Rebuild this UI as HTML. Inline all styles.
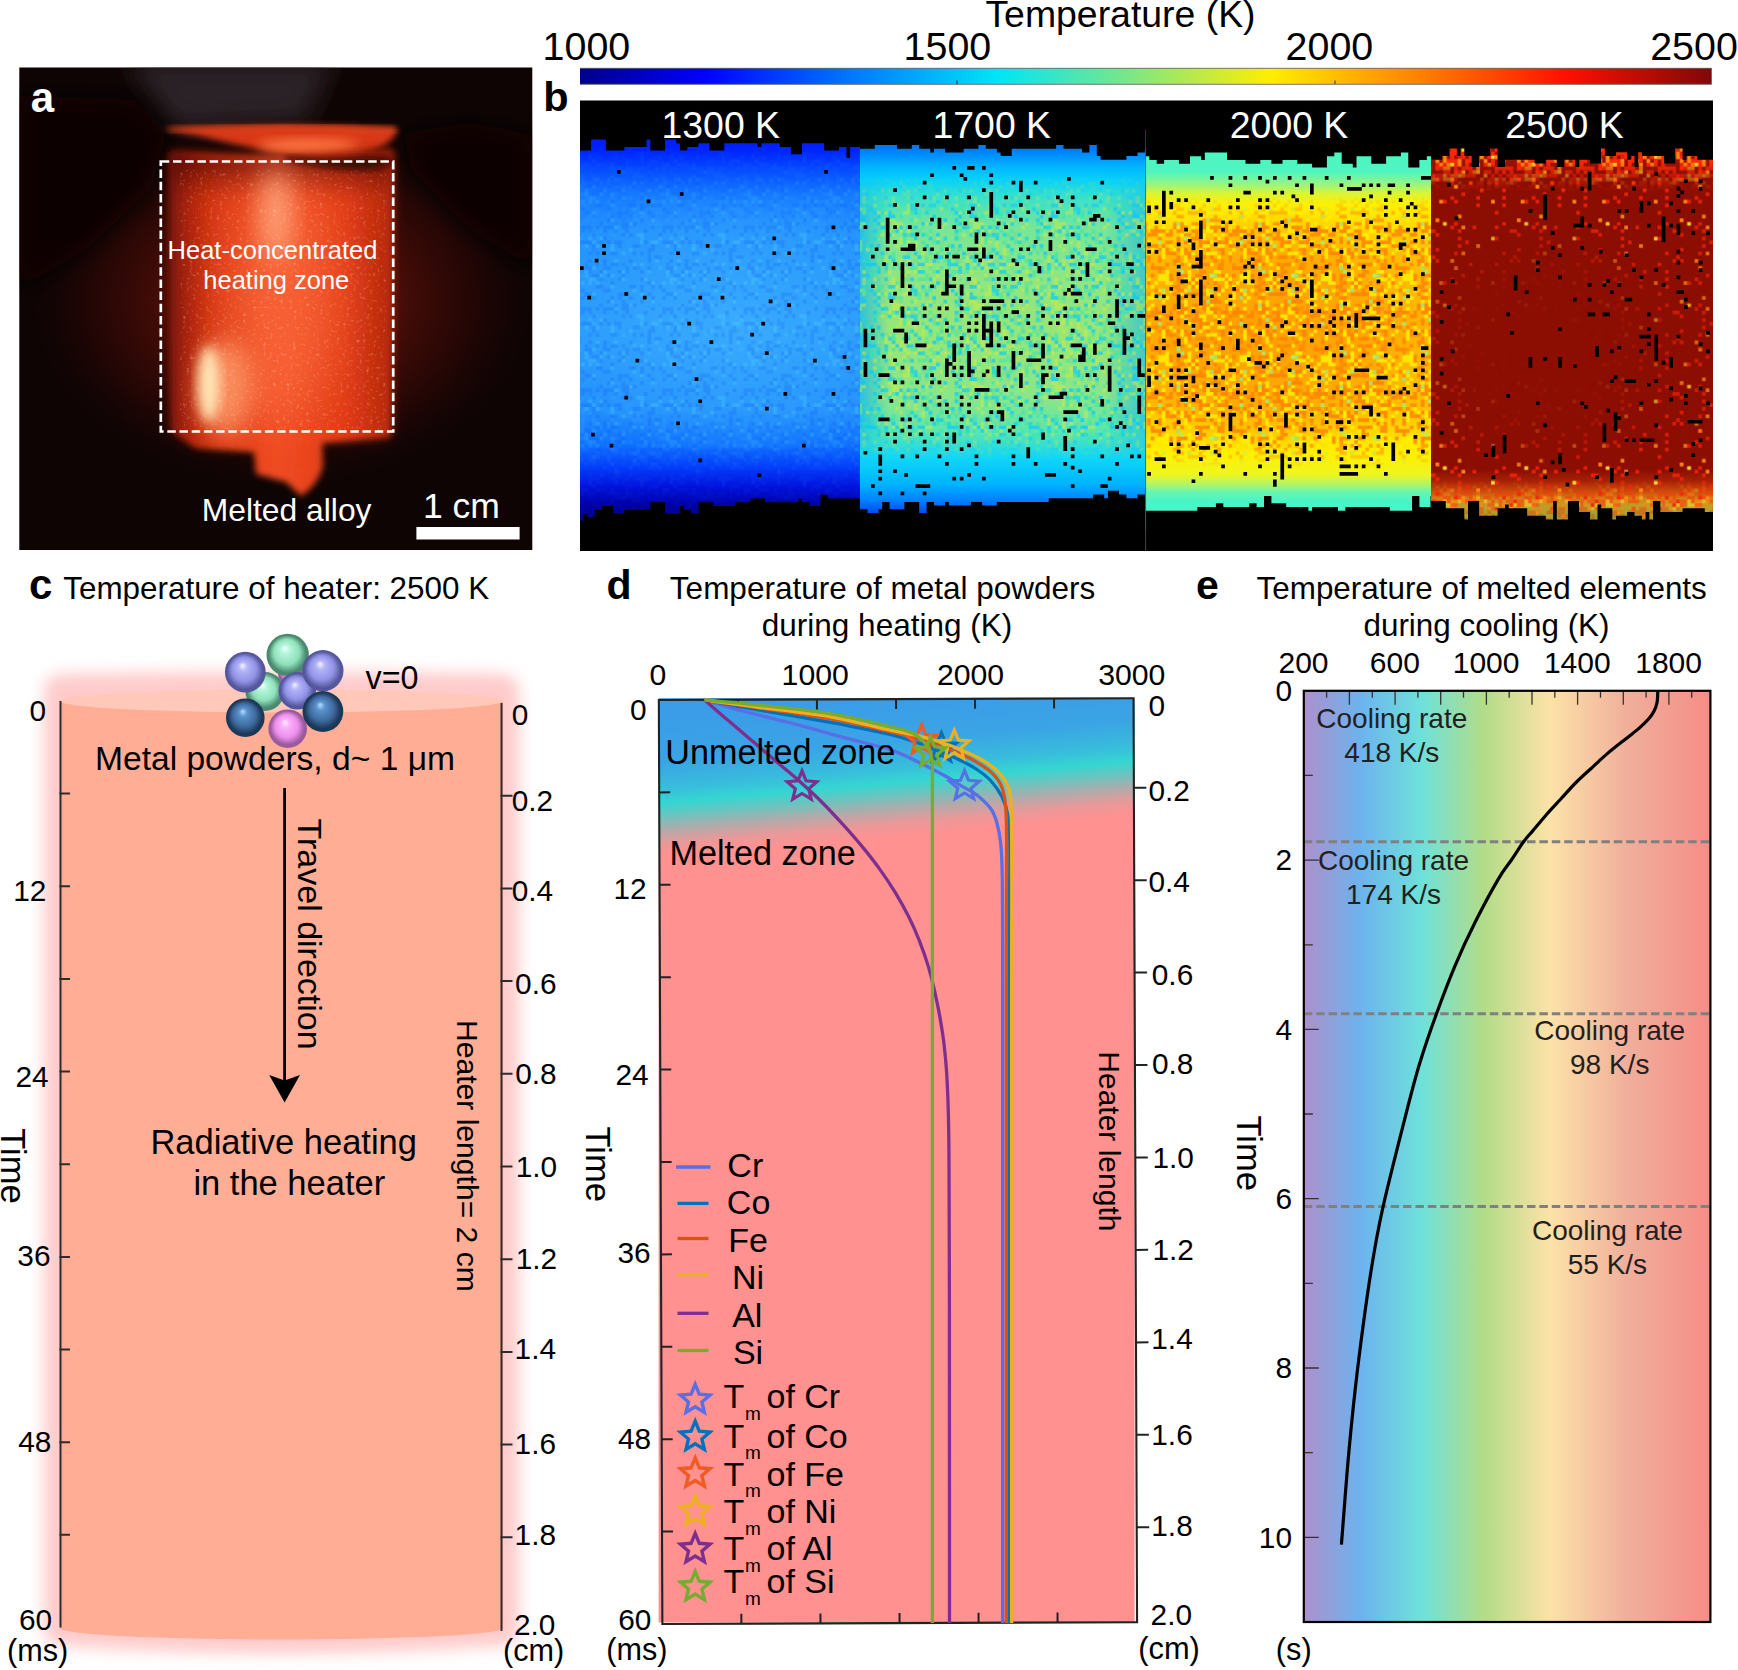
<!DOCTYPE html>
<html lang="en"><head><meta charset="utf-8"><title>Figure</title>
<style>html,body{margin:0;padding:0;background:#fff}svg{display:block}text{font-family:"Liberation Sans",sans-serif}</style></head>
<body>
<svg width="1738" height="1670" viewBox="0 0 1738 1670">
<defs>
<clipPath id="ca"><rect x="19.3" y="67.4" width="513" height="482.6"/></clipPath>
<filter id="bl3" x="-20%" y="-20%" width="140%" height="140%"><feGaussianBlur stdDeviation="3"/></filter>
<filter id="bl6" x="-30%" y="-30%" width="160%" height="160%"><feGaussianBlur stdDeviation="6"/></filter>
<filter id="bl12" x="-50%" y="-50%" width="200%" height="200%"><feGaussianBlur stdDeviation="12"/></filter>
<filter id="bl25" x="-60%" y="-60%" width="220%" height="220%"><feGaussianBlur stdDeviation="22"/></filter>
<linearGradient id="abody" x1="0" x2="1" y1="0" y2="0"><stop offset="0" stop-color="#6e160a"/><stop offset="0.07" stop-color="#a8220c"/><stop offset="0.2" stop-color="#d83612"/><stop offset="0.48" stop-color="#f04c24"/><stop offset="0.8" stop-color="#e03a14"/><stop offset="1" stop-color="#b4280e"/></linearGradient>
<radialGradient id="aglow" cx="0.5" cy="0.5" r="0.5"><stop offset="0" stop-color="#6a1409"/><stop offset="0.45" stop-color="#4a0d07"/><stop offset="0.75" stop-color="#2a0705" stop-opacity="0.8"/><stop offset="1" stop-color="#1a0504" stop-opacity="0"/></radialGradient>
<linearGradient id="atop" gradientUnits="userSpaceOnUse" x1="0" x2="0" y1="150" y2="200"><stop offset="0" stop-color="#3a0a04" stop-opacity="0.7"/><stop offset="1" stop-color="#3a0a04" stop-opacity="0"/></linearGradient>
<filter id="spk" x="0" y="0" width="100%" height="100%"><feTurbulence type="fractalNoise" baseFrequency="0.3" numOctaves="2" seed="4" result="n"/><feColorMatrix in="n" type="matrix" values="0 0 0 0 1  0 0 0 0 0.82  0 0 0 0 0.66  0 0 0 3 -1.75"/><feComposite operator="in" in2="SourceGraphic"/></filter>
<linearGradient id="jet" x1="0" x2="1" y1="0" y2="0"><stop offset="0" stop-color="#00008c"/><stop offset="0.11" stop-color="#0000ff"/><stop offset="0.24" stop-color="#0078ff"/><stop offset="0.37" stop-color="#00e6f5"/><stop offset="0.49" stop-color="#82e682"/><stop offset="0.61" stop-color="#ffee00"/><stop offset="0.74" stop-color="#ff8200"/><stop offset="0.87" stop-color="#ff1000"/><stop offset="1" stop-color="#800808"/></linearGradient>
<linearGradient id="s1" x1="0" x2="0" y1="0" y2="1"><stop offset="0.000" stop-color="#0014fa"/><stop offset="0.055" stop-color="#0026ff"/><stop offset="0.105" stop-color="#0650ff"/><stop offset="0.163" stop-color="#167aff"/><stop offset="0.250" stop-color="#2492fd"/><stop offset="0.500" stop-color="#2c9cfc"/><stop offset="0.700" stop-color="#2490fd"/><stop offset="0.787" stop-color="#1070ff"/><stop offset="0.845" stop-color="#043cfa"/><stop offset="0.892" stop-color="#0012dc"/><stop offset="0.938" stop-color="#0000a5"/><stop offset="1.000" stop-color="#000078"/></linearGradient>
<radialGradient id="s1r" cx="0.55" cy="0.5" r="0.6"><stop offset="0" stop-color="#4cc0ff" stop-opacity="0.45"/><stop offset="1" stop-color="#4cc0ff" stop-opacity="0"/></radialGradient>
<pattern id="n1" width="81.4" height="81.4" patternUnits="userSpaceOnUse"><path d="M0.0 37.0h3.7v3.7h-3.7zM0.0 44.4h3.7v3.7h-3.7zM0.0 55.5h3.7v3.7h-3.7zM0.0 77.7h3.7v3.7h-3.7zM3.7 3.7h3.7v3.7h-3.7zM3.7 14.8h3.7v3.7h-3.7zM3.7 77.7h3.7v3.7h-3.7zM7.4 22.2h3.7v3.7h-3.7zM7.4 44.4h3.7v3.7h-3.7zM7.4 59.2h3.7v3.7h-3.7zM7.4 74.0h3.7v3.7h-3.7zM11.1 0.0h3.7v3.7h-3.7zM11.1 3.7h3.7v3.7h-3.7zM11.1 29.6h3.7v3.7h-3.7zM11.1 37.0h3.7v3.7h-3.7zM14.8 0.0h3.7v3.7h-3.7zM14.8 25.9h3.7v3.7h-3.7zM14.8 29.6h3.7v3.7h-3.7zM18.5 33.3h3.7v3.7h-3.7zM18.5 37.0h3.7v3.7h-3.7zM18.5 74.0h3.7v3.7h-3.7zM22.2 22.2h3.7v3.7h-3.7zM22.2 33.3h3.7v3.7h-3.7zM22.2 48.1h3.7v3.7h-3.7zM22.2 77.7h3.7v3.7h-3.7zM25.9 0.0h3.7v3.7h-3.7zM25.9 14.8h3.7v3.7h-3.7zM25.9 37.0h3.7v3.7h-3.7zM29.6 29.6h3.7v3.7h-3.7zM29.6 66.6h3.7v3.7h-3.7zM29.6 74.0h3.7v3.7h-3.7zM33.3 25.9h3.7v3.7h-3.7zM37.0 14.8h3.7v3.7h-3.7zM40.7 0.0h3.7v3.7h-3.7zM40.7 3.7h3.7v3.7h-3.7zM40.7 11.1h3.7v3.7h-3.7zM40.7 29.6h3.7v3.7h-3.7zM40.7 33.3h3.7v3.7h-3.7zM40.7 40.7h3.7v3.7h-3.7zM40.7 55.5h3.7v3.7h-3.7zM44.4 14.8h3.7v3.7h-3.7zM44.4 62.9h3.7v3.7h-3.7zM44.4 74.0h3.7v3.7h-3.7zM51.8 7.4h3.7v3.7h-3.7zM51.8 25.9h3.7v3.7h-3.7zM51.8 33.3h3.7v3.7h-3.7zM55.5 3.7h3.7v3.7h-3.7zM59.2 3.7h3.7v3.7h-3.7zM59.2 33.3h3.7v3.7h-3.7zM59.2 59.2h3.7v3.7h-3.7zM62.9 11.1h3.7v3.7h-3.7zM62.9 18.5h3.7v3.7h-3.7zM62.9 44.4h3.7v3.7h-3.7zM62.9 51.8h3.7v3.7h-3.7zM66.6 70.3h3.7v3.7h-3.7zM70.3 3.7h3.7v3.7h-3.7zM70.3 18.5h3.7v3.7h-3.7zM70.3 29.6h3.7v3.7h-3.7zM70.3 48.1h3.7v3.7h-3.7zM70.3 70.3h3.7v3.7h-3.7zM70.3 74.0h3.7v3.7h-3.7zM70.3 77.7h3.7v3.7h-3.7zM74.0 33.3h3.7v3.7h-3.7zM74.0 37.0h3.7v3.7h-3.7zM74.0 70.3h3.7v3.7h-3.7zM77.7 25.9h3.7v3.7h-3.7z" fill="#4cd2ff" fill-opacity="0.32"/><path d="M0.0 33.3h3.7v3.7h-3.7zM0.0 44.4h3.7v3.7h-3.7zM0.0 59.2h3.7v3.7h-3.7zM3.7 25.9h3.7v3.7h-3.7zM3.7 37.0h3.7v3.7h-3.7zM3.7 44.4h3.7v3.7h-3.7zM3.7 48.1h3.7v3.7h-3.7zM3.7 55.5h3.7v3.7h-3.7zM3.7 59.2h3.7v3.7h-3.7zM7.4 11.1h3.7v3.7h-3.7zM7.4 22.2h3.7v3.7h-3.7zM7.4 29.6h3.7v3.7h-3.7zM7.4 37.0h3.7v3.7h-3.7zM7.4 48.1h3.7v3.7h-3.7zM11.1 11.1h3.7v3.7h-3.7zM11.1 14.8h3.7v3.7h-3.7zM11.1 18.5h3.7v3.7h-3.7zM11.1 22.2h3.7v3.7h-3.7zM11.1 40.7h3.7v3.7h-3.7zM11.1 51.8h3.7v3.7h-3.7zM11.1 70.3h3.7v3.7h-3.7zM14.8 18.5h3.7v3.7h-3.7zM14.8 29.6h3.7v3.7h-3.7zM14.8 33.3h3.7v3.7h-3.7zM14.8 40.7h3.7v3.7h-3.7zM14.8 55.5h3.7v3.7h-3.7zM18.5 3.7h3.7v3.7h-3.7zM18.5 7.4h3.7v3.7h-3.7zM18.5 25.9h3.7v3.7h-3.7zM18.5 48.1h3.7v3.7h-3.7zM18.5 51.8h3.7v3.7h-3.7zM18.5 66.6h3.7v3.7h-3.7zM18.5 70.3h3.7v3.7h-3.7zM18.5 74.0h3.7v3.7h-3.7zM22.2 3.7h3.7v3.7h-3.7zM22.2 11.1h3.7v3.7h-3.7zM22.2 14.8h3.7v3.7h-3.7zM22.2 37.0h3.7v3.7h-3.7zM22.2 51.8h3.7v3.7h-3.7zM22.2 55.5h3.7v3.7h-3.7zM22.2 70.3h3.7v3.7h-3.7zM22.2 77.7h3.7v3.7h-3.7zM25.9 37.0h3.7v3.7h-3.7zM25.9 44.4h3.7v3.7h-3.7zM25.9 48.1h3.7v3.7h-3.7zM25.9 70.3h3.7v3.7h-3.7zM25.9 74.0h3.7v3.7h-3.7zM29.6 0.0h3.7v3.7h-3.7zM29.6 18.5h3.7v3.7h-3.7zM29.6 33.3h3.7v3.7h-3.7zM33.3 0.0h3.7v3.7h-3.7zM33.3 22.2h3.7v3.7h-3.7zM33.3 44.4h3.7v3.7h-3.7zM33.3 59.2h3.7v3.7h-3.7zM37.0 3.7h3.7v3.7h-3.7zM37.0 14.8h3.7v3.7h-3.7zM37.0 18.5h3.7v3.7h-3.7zM37.0 29.6h3.7v3.7h-3.7zM37.0 37.0h3.7v3.7h-3.7zM37.0 48.1h3.7v3.7h-3.7zM37.0 51.8h3.7v3.7h-3.7zM40.7 70.3h3.7v3.7h-3.7zM44.4 3.7h3.7v3.7h-3.7zM44.4 7.4h3.7v3.7h-3.7zM44.4 22.2h3.7v3.7h-3.7zM44.4 29.6h3.7v3.7h-3.7zM44.4 40.7h3.7v3.7h-3.7zM44.4 44.4h3.7v3.7h-3.7zM44.4 59.2h3.7v3.7h-3.7zM44.4 62.9h3.7v3.7h-3.7zM44.4 66.6h3.7v3.7h-3.7zM44.4 70.3h3.7v3.7h-3.7zM44.4 74.0h3.7v3.7h-3.7zM48.1 3.7h3.7v3.7h-3.7zM48.1 7.4h3.7v3.7h-3.7zM48.1 14.8h3.7v3.7h-3.7zM48.1 37.0h3.7v3.7h-3.7zM48.1 62.9h3.7v3.7h-3.7zM48.1 66.6h3.7v3.7h-3.7zM51.8 7.4h3.7v3.7h-3.7zM51.8 18.5h3.7v3.7h-3.7zM51.8 22.2h3.7v3.7h-3.7zM51.8 44.4h3.7v3.7h-3.7zM51.8 48.1h3.7v3.7h-3.7zM51.8 55.5h3.7v3.7h-3.7zM51.8 74.0h3.7v3.7h-3.7zM55.5 0.0h3.7v3.7h-3.7zM55.5 7.4h3.7v3.7h-3.7zM55.5 22.2h3.7v3.7h-3.7zM55.5 25.9h3.7v3.7h-3.7zM55.5 33.3h3.7v3.7h-3.7zM55.5 70.3h3.7v3.7h-3.7zM55.5 77.7h3.7v3.7h-3.7zM59.2 7.4h3.7v3.7h-3.7zM59.2 22.2h3.7v3.7h-3.7zM59.2 44.4h3.7v3.7h-3.7zM59.2 66.6h3.7v3.7h-3.7zM59.2 77.7h3.7v3.7h-3.7zM62.9 7.4h3.7v3.7h-3.7zM62.9 18.5h3.7v3.7h-3.7zM62.9 51.8h3.7v3.7h-3.7zM62.9 55.5h3.7v3.7h-3.7zM66.6 3.7h3.7v3.7h-3.7zM66.6 7.4h3.7v3.7h-3.7zM66.6 11.1h3.7v3.7h-3.7zM66.6 22.2h3.7v3.7h-3.7zM66.6 37.0h3.7v3.7h-3.7zM66.6 40.7h3.7v3.7h-3.7zM66.6 44.4h3.7v3.7h-3.7zM66.6 48.1h3.7v3.7h-3.7zM66.6 55.5h3.7v3.7h-3.7zM70.3 11.1h3.7v3.7h-3.7zM70.3 37.0h3.7v3.7h-3.7zM70.3 51.8h3.7v3.7h-3.7zM70.3 74.0h3.7v3.7h-3.7zM74.0 14.8h3.7v3.7h-3.7zM74.0 37.0h3.7v3.7h-3.7zM74.0 48.1h3.7v3.7h-3.7zM74.0 51.8h3.7v3.7h-3.7zM74.0 55.5h3.7v3.7h-3.7zM77.7 0.0h3.7v3.7h-3.7zM77.7 7.4h3.7v3.7h-3.7zM77.7 25.9h3.7v3.7h-3.7zM77.7 44.4h3.7v3.7h-3.7zM77.7 59.2h3.7v3.7h-3.7zM77.7 70.3h3.7v3.7h-3.7zM77.7 77.7h3.7v3.7h-3.7z" fill="#2aa6ff" fill-opacity="0.28"/><path d="M0.0 0.0h3.7v3.7h-3.7zM0.0 3.7h3.7v3.7h-3.7zM0.0 40.7h3.7v3.7h-3.7zM0.0 44.4h3.7v3.7h-3.7zM0.0 51.8h3.7v3.7h-3.7zM0.0 62.9h3.7v3.7h-3.7zM3.7 3.7h3.7v3.7h-3.7zM3.7 11.1h3.7v3.7h-3.7zM7.4 11.1h3.7v3.7h-3.7zM7.4 40.7h3.7v3.7h-3.7zM7.4 44.4h3.7v3.7h-3.7zM7.4 59.2h3.7v3.7h-3.7zM7.4 70.3h3.7v3.7h-3.7zM11.1 0.0h3.7v3.7h-3.7zM11.1 3.7h3.7v3.7h-3.7zM11.1 29.6h3.7v3.7h-3.7zM11.1 44.4h3.7v3.7h-3.7zM11.1 51.8h3.7v3.7h-3.7zM11.1 62.9h3.7v3.7h-3.7zM11.1 66.6h3.7v3.7h-3.7zM11.1 77.7h3.7v3.7h-3.7zM14.8 18.5h3.7v3.7h-3.7zM14.8 22.2h3.7v3.7h-3.7zM14.8 48.1h3.7v3.7h-3.7zM14.8 62.9h3.7v3.7h-3.7zM14.8 77.7h3.7v3.7h-3.7zM18.5 7.4h3.7v3.7h-3.7zM18.5 14.8h3.7v3.7h-3.7zM18.5 22.2h3.7v3.7h-3.7zM18.5 25.9h3.7v3.7h-3.7zM18.5 48.1h3.7v3.7h-3.7zM18.5 62.9h3.7v3.7h-3.7zM18.5 66.6h3.7v3.7h-3.7zM18.5 77.7h3.7v3.7h-3.7zM22.2 0.0h3.7v3.7h-3.7zM22.2 3.7h3.7v3.7h-3.7zM22.2 29.6h3.7v3.7h-3.7zM22.2 51.8h3.7v3.7h-3.7zM22.2 70.3h3.7v3.7h-3.7zM25.9 7.4h3.7v3.7h-3.7zM25.9 18.5h3.7v3.7h-3.7zM25.9 29.6h3.7v3.7h-3.7zM25.9 40.7h3.7v3.7h-3.7zM25.9 62.9h3.7v3.7h-3.7zM29.6 25.9h3.7v3.7h-3.7zM29.6 33.3h3.7v3.7h-3.7zM29.6 40.7h3.7v3.7h-3.7zM29.6 59.2h3.7v3.7h-3.7zM29.6 66.6h3.7v3.7h-3.7zM29.6 77.7h3.7v3.7h-3.7zM33.3 14.8h3.7v3.7h-3.7zM33.3 18.5h3.7v3.7h-3.7zM33.3 22.2h3.7v3.7h-3.7zM33.3 44.4h3.7v3.7h-3.7zM33.3 62.9h3.7v3.7h-3.7zM33.3 66.6h3.7v3.7h-3.7zM33.3 74.0h3.7v3.7h-3.7zM37.0 14.8h3.7v3.7h-3.7zM37.0 22.2h3.7v3.7h-3.7zM37.0 29.6h3.7v3.7h-3.7zM37.0 44.4h3.7v3.7h-3.7zM37.0 55.5h3.7v3.7h-3.7zM37.0 62.9h3.7v3.7h-3.7zM37.0 77.7h3.7v3.7h-3.7zM40.7 7.4h3.7v3.7h-3.7zM40.7 11.1h3.7v3.7h-3.7zM40.7 18.5h3.7v3.7h-3.7zM40.7 33.3h3.7v3.7h-3.7zM40.7 37.0h3.7v3.7h-3.7zM40.7 51.8h3.7v3.7h-3.7zM40.7 62.9h3.7v3.7h-3.7zM44.4 7.4h3.7v3.7h-3.7zM44.4 18.5h3.7v3.7h-3.7zM44.4 59.2h3.7v3.7h-3.7zM44.4 66.6h3.7v3.7h-3.7zM44.4 74.0h3.7v3.7h-3.7zM44.4 77.7h3.7v3.7h-3.7zM48.1 0.0h3.7v3.7h-3.7zM48.1 25.9h3.7v3.7h-3.7zM48.1 33.3h3.7v3.7h-3.7zM48.1 48.1h3.7v3.7h-3.7zM48.1 51.8h3.7v3.7h-3.7zM48.1 77.7h3.7v3.7h-3.7zM51.8 18.5h3.7v3.7h-3.7zM51.8 29.6h3.7v3.7h-3.7zM51.8 48.1h3.7v3.7h-3.7zM51.8 55.5h3.7v3.7h-3.7zM51.8 59.2h3.7v3.7h-3.7zM51.8 62.9h3.7v3.7h-3.7zM51.8 70.3h3.7v3.7h-3.7zM55.5 3.7h3.7v3.7h-3.7zM55.5 22.2h3.7v3.7h-3.7zM55.5 25.9h3.7v3.7h-3.7zM55.5 48.1h3.7v3.7h-3.7zM55.5 59.2h3.7v3.7h-3.7zM55.5 62.9h3.7v3.7h-3.7zM55.5 66.6h3.7v3.7h-3.7zM59.2 14.8h3.7v3.7h-3.7zM59.2 33.3h3.7v3.7h-3.7zM59.2 40.7h3.7v3.7h-3.7zM59.2 51.8h3.7v3.7h-3.7zM59.2 70.3h3.7v3.7h-3.7zM62.9 0.0h3.7v3.7h-3.7zM62.9 7.4h3.7v3.7h-3.7zM62.9 11.1h3.7v3.7h-3.7zM62.9 22.2h3.7v3.7h-3.7zM62.9 40.7h3.7v3.7h-3.7zM62.9 51.8h3.7v3.7h-3.7zM62.9 59.2h3.7v3.7h-3.7zM66.6 0.0h3.7v3.7h-3.7zM66.6 22.2h3.7v3.7h-3.7zM70.3 3.7h3.7v3.7h-3.7zM70.3 7.4h3.7v3.7h-3.7zM70.3 25.9h3.7v3.7h-3.7zM70.3 29.6h3.7v3.7h-3.7zM70.3 33.3h3.7v3.7h-3.7zM70.3 40.7h3.7v3.7h-3.7zM70.3 44.4h3.7v3.7h-3.7zM70.3 55.5h3.7v3.7h-3.7zM74.0 37.0h3.7v3.7h-3.7zM74.0 66.6h3.7v3.7h-3.7zM74.0 70.3h3.7v3.7h-3.7zM74.0 77.7h3.7v3.7h-3.7zM77.7 3.7h3.7v3.7h-3.7zM77.7 7.4h3.7v3.7h-3.7zM77.7 11.1h3.7v3.7h-3.7zM77.7 14.8h3.7v3.7h-3.7zM77.7 22.2h3.7v3.7h-3.7zM77.7 37.0h3.7v3.7h-3.7zM77.7 48.1h3.7v3.7h-3.7z" fill="#0040ff" fill-opacity="0.16"/></pattern>
<linearGradient id="m1g" x1="0" x2="0" y1="0" y2="1"><stop offset="0.000" stop-color="#fff" stop-opacity="0"/><stop offset="0.100" stop-color="#fff" stop-opacity="0.2"/><stop offset="0.250" stop-color="#fff" stop-opacity="1"/><stop offset="0.725" stop-color="#fff" stop-opacity="1"/><stop offset="0.850" stop-color="#fff" stop-opacity="0.2"/><stop offset="1.000" stop-color="#fff" stop-opacity="0"/></linearGradient>
<mask id="m1" maskUnits="userSpaceOnUse" x="570" y="130" width="1160" height="400"><rect x="570" y="130" width="1160" height="400" fill="url(#m1g)"/></mask>
<linearGradient id="s2" x1="0" x2="0" y1="0" y2="1"><stop offset="0.000" stop-color="#0068ff"/><stop offset="0.045" stop-color="#0078ff"/><stop offset="0.070" stop-color="#0098ff"/><stop offset="0.095" stop-color="#00b8ff"/><stop offset="0.125" stop-color="#0ad2f8"/><stop offset="0.170" stop-color="#3ce1cc"/><stop offset="0.245" stop-color="#78e696"/><stop offset="0.375" stop-color="#90e680"/><stop offset="0.525" stop-color="#98e676"/><stop offset="0.675" stop-color="#88e68a"/><stop offset="0.755" stop-color="#5ae6b0"/><stop offset="0.820" stop-color="#10d7f8"/><stop offset="0.885" stop-color="#00b4ff"/><stop offset="0.925" stop-color="#0082ff"/><stop offset="0.955" stop-color="#0050f0"/><stop offset="1.000" stop-color="#0030b0"/></linearGradient>
<linearGradient id="s2e" x1="0" x2="1" y1="0" y2="0"><stop offset="0" stop-color="#08b4ff" stop-opacity="0.75"/><stop offset="0.1" stop-color="#08b4ff" stop-opacity="0"/><stop offset="0.86" stop-color="#08b4ff" stop-opacity="0"/><stop offset="1" stop-color="#08b4ff" stop-opacity="0.6"/></linearGradient>
<linearGradient id="m2eg" x1="0" x2="0" y1="0" y2="1"><stop offset="0.000" stop-color="#fff" stop-opacity="0"/><stop offset="0.087" stop-color="#fff" stop-opacity="0"/><stop offset="0.212" stop-color="#fff" stop-opacity="1"/><stop offset="0.738" stop-color="#fff" stop-opacity="1"/><stop offset="0.838" stop-color="#fff" stop-opacity="0"/><stop offset="1.000" stop-color="#fff" stop-opacity="0"/></linearGradient>
<mask id="m2e" maskUnits="userSpaceOnUse" x="570" y="130" width="1160" height="400"><rect x="570" y="130" width="1160" height="400" fill="url(#m2eg)"/></mask>
<pattern id="n2" width="81.4" height="81.4" patternUnits="userSpaceOnUse"><path d="M0.0 18.5h3.7v3.7h-3.7zM0.0 66.6h3.7v3.7h-3.7zM3.7 22.2h3.7v3.7h-3.7zM3.7 55.5h3.7v3.7h-3.7zM3.7 62.9h3.7v3.7h-3.7zM7.4 11.1h3.7v3.7h-3.7zM7.4 70.3h3.7v3.7h-3.7zM11.1 3.7h3.7v3.7h-3.7zM11.1 11.1h3.7v3.7h-3.7zM11.1 18.5h3.7v3.7h-3.7zM11.1 29.6h3.7v3.7h-3.7zM11.1 33.3h3.7v3.7h-3.7zM11.1 62.9h3.7v3.7h-3.7zM11.1 70.3h3.7v3.7h-3.7zM14.8 3.7h3.7v3.7h-3.7zM14.8 18.5h3.7v3.7h-3.7zM14.8 33.3h3.7v3.7h-3.7zM14.8 40.7h3.7v3.7h-3.7zM14.8 44.4h3.7v3.7h-3.7zM14.8 66.6h3.7v3.7h-3.7zM14.8 70.3h3.7v3.7h-3.7zM18.5 7.4h3.7v3.7h-3.7zM18.5 14.8h3.7v3.7h-3.7zM18.5 44.4h3.7v3.7h-3.7zM18.5 48.1h3.7v3.7h-3.7zM18.5 62.9h3.7v3.7h-3.7zM18.5 70.3h3.7v3.7h-3.7zM18.5 74.0h3.7v3.7h-3.7zM22.2 11.1h3.7v3.7h-3.7zM22.2 18.5h3.7v3.7h-3.7zM22.2 25.9h3.7v3.7h-3.7zM25.9 18.5h3.7v3.7h-3.7zM25.9 25.9h3.7v3.7h-3.7zM25.9 40.7h3.7v3.7h-3.7zM25.9 44.4h3.7v3.7h-3.7zM25.9 59.2h3.7v3.7h-3.7zM25.9 70.3h3.7v3.7h-3.7zM29.6 0.0h3.7v3.7h-3.7zM29.6 48.1h3.7v3.7h-3.7zM29.6 51.8h3.7v3.7h-3.7zM33.3 3.7h3.7v3.7h-3.7zM33.3 33.3h3.7v3.7h-3.7zM33.3 40.7h3.7v3.7h-3.7zM33.3 59.2h3.7v3.7h-3.7zM33.3 74.0h3.7v3.7h-3.7zM37.0 14.8h3.7v3.7h-3.7zM37.0 40.7h3.7v3.7h-3.7zM37.0 51.8h3.7v3.7h-3.7zM37.0 55.5h3.7v3.7h-3.7zM37.0 70.3h3.7v3.7h-3.7zM37.0 74.0h3.7v3.7h-3.7zM40.7 11.1h3.7v3.7h-3.7zM40.7 25.9h3.7v3.7h-3.7zM40.7 37.0h3.7v3.7h-3.7zM40.7 70.3h3.7v3.7h-3.7zM40.7 77.7h3.7v3.7h-3.7zM44.4 3.7h3.7v3.7h-3.7zM44.4 11.1h3.7v3.7h-3.7zM44.4 59.2h3.7v3.7h-3.7zM44.4 77.7h3.7v3.7h-3.7zM48.1 37.0h3.7v3.7h-3.7zM48.1 44.4h3.7v3.7h-3.7zM48.1 55.5h3.7v3.7h-3.7zM48.1 74.0h3.7v3.7h-3.7zM51.8 7.4h3.7v3.7h-3.7zM51.8 14.8h3.7v3.7h-3.7zM51.8 18.5h3.7v3.7h-3.7zM51.8 29.6h3.7v3.7h-3.7zM55.5 0.0h3.7v3.7h-3.7zM55.5 18.5h3.7v3.7h-3.7zM55.5 44.4h3.7v3.7h-3.7zM59.2 3.7h3.7v3.7h-3.7zM59.2 18.5h3.7v3.7h-3.7zM59.2 48.1h3.7v3.7h-3.7zM59.2 55.5h3.7v3.7h-3.7zM59.2 66.6h3.7v3.7h-3.7zM59.2 74.0h3.7v3.7h-3.7zM62.9 0.0h3.7v3.7h-3.7zM62.9 14.8h3.7v3.7h-3.7zM62.9 22.2h3.7v3.7h-3.7zM62.9 25.9h3.7v3.7h-3.7zM62.9 51.8h3.7v3.7h-3.7zM62.9 59.2h3.7v3.7h-3.7zM62.9 74.0h3.7v3.7h-3.7zM66.6 7.4h3.7v3.7h-3.7zM66.6 25.9h3.7v3.7h-3.7zM66.6 62.9h3.7v3.7h-3.7zM70.3 7.4h3.7v3.7h-3.7zM70.3 18.5h3.7v3.7h-3.7zM70.3 22.2h3.7v3.7h-3.7zM70.3 33.3h3.7v3.7h-3.7zM70.3 37.0h3.7v3.7h-3.7zM70.3 62.9h3.7v3.7h-3.7zM70.3 66.6h3.7v3.7h-3.7zM74.0 11.1h3.7v3.7h-3.7zM74.0 40.7h3.7v3.7h-3.7zM74.0 48.1h3.7v3.7h-3.7zM74.0 51.8h3.7v3.7h-3.7zM74.0 70.3h3.7v3.7h-3.7zM77.7 11.1h3.7v3.7h-3.7zM77.7 14.8h3.7v3.7h-3.7zM77.7 40.7h3.7v3.7h-3.7zM77.7 51.8h3.7v3.7h-3.7z" fill="#08c8ff" fill-opacity="0.7"/><path d="M0.0 0.0h3.7v3.7h-3.7zM0.0 40.7h3.7v3.7h-3.7zM0.0 51.8h3.7v3.7h-3.7zM0.0 59.2h3.7v3.7h-3.7zM0.0 62.9h3.7v3.7h-3.7zM3.7 3.7h3.7v3.7h-3.7zM3.7 14.8h3.7v3.7h-3.7zM3.7 18.5h3.7v3.7h-3.7zM3.7 44.4h3.7v3.7h-3.7zM3.7 55.5h3.7v3.7h-3.7zM3.7 59.2h3.7v3.7h-3.7zM3.7 66.6h3.7v3.7h-3.7zM3.7 74.0h3.7v3.7h-3.7zM3.7 77.7h3.7v3.7h-3.7zM7.4 22.2h3.7v3.7h-3.7zM7.4 29.6h3.7v3.7h-3.7zM7.4 48.1h3.7v3.7h-3.7zM11.1 3.7h3.7v3.7h-3.7zM11.1 14.8h3.7v3.7h-3.7zM11.1 25.9h3.7v3.7h-3.7zM11.1 29.6h3.7v3.7h-3.7zM11.1 33.3h3.7v3.7h-3.7zM11.1 40.7h3.7v3.7h-3.7zM11.1 44.4h3.7v3.7h-3.7zM11.1 48.1h3.7v3.7h-3.7zM11.1 66.6h3.7v3.7h-3.7zM11.1 70.3h3.7v3.7h-3.7zM11.1 77.7h3.7v3.7h-3.7zM14.8 66.6h3.7v3.7h-3.7zM18.5 0.0h3.7v3.7h-3.7zM18.5 14.8h3.7v3.7h-3.7zM18.5 25.9h3.7v3.7h-3.7zM18.5 55.5h3.7v3.7h-3.7zM18.5 77.7h3.7v3.7h-3.7zM22.2 22.2h3.7v3.7h-3.7zM25.9 3.7h3.7v3.7h-3.7zM25.9 7.4h3.7v3.7h-3.7zM25.9 44.4h3.7v3.7h-3.7zM25.9 62.9h3.7v3.7h-3.7zM29.6 11.1h3.7v3.7h-3.7zM29.6 18.5h3.7v3.7h-3.7zM29.6 33.3h3.7v3.7h-3.7zM29.6 51.8h3.7v3.7h-3.7zM29.6 59.2h3.7v3.7h-3.7zM33.3 18.5h3.7v3.7h-3.7zM33.3 22.2h3.7v3.7h-3.7zM33.3 55.5h3.7v3.7h-3.7zM37.0 33.3h3.7v3.7h-3.7zM37.0 55.5h3.7v3.7h-3.7zM37.0 70.3h3.7v3.7h-3.7zM37.0 74.0h3.7v3.7h-3.7zM40.7 29.6h3.7v3.7h-3.7zM40.7 74.0h3.7v3.7h-3.7zM44.4 0.0h3.7v3.7h-3.7zM44.4 3.7h3.7v3.7h-3.7zM44.4 44.4h3.7v3.7h-3.7zM44.4 59.2h3.7v3.7h-3.7zM44.4 62.9h3.7v3.7h-3.7zM44.4 77.7h3.7v3.7h-3.7zM48.1 25.9h3.7v3.7h-3.7zM48.1 33.3h3.7v3.7h-3.7zM48.1 37.0h3.7v3.7h-3.7zM48.1 44.4h3.7v3.7h-3.7zM48.1 48.1h3.7v3.7h-3.7zM48.1 59.2h3.7v3.7h-3.7zM51.8 3.7h3.7v3.7h-3.7zM59.2 3.7h3.7v3.7h-3.7zM59.2 33.3h3.7v3.7h-3.7zM59.2 40.7h3.7v3.7h-3.7zM62.9 14.8h3.7v3.7h-3.7zM62.9 48.1h3.7v3.7h-3.7zM62.9 74.0h3.7v3.7h-3.7zM66.6 25.9h3.7v3.7h-3.7zM66.6 59.2h3.7v3.7h-3.7zM66.6 70.3h3.7v3.7h-3.7zM70.3 7.4h3.7v3.7h-3.7zM70.3 11.1h3.7v3.7h-3.7zM70.3 14.8h3.7v3.7h-3.7zM70.3 37.0h3.7v3.7h-3.7zM70.3 48.1h3.7v3.7h-3.7zM70.3 66.6h3.7v3.7h-3.7zM74.0 25.9h3.7v3.7h-3.7zM74.0 55.5h3.7v3.7h-3.7zM74.0 66.6h3.7v3.7h-3.7zM77.7 11.1h3.7v3.7h-3.7zM77.7 18.5h3.7v3.7h-3.7zM77.7 33.3h3.7v3.7h-3.7zM77.7 37.0h3.7v3.7h-3.7zM77.7 55.5h3.7v3.7h-3.7zM77.7 59.2h3.7v3.7h-3.7zM77.7 62.9h3.7v3.7h-3.7zM77.7 70.3h3.7v3.7h-3.7z" fill="#d2eb3c" fill-opacity="0.5"/><path d="M0.0 37.0h3.7v3.7h-3.7zM0.0 51.8h3.7v3.7h-3.7zM3.7 44.4h3.7v3.7h-3.7zM3.7 51.8h3.7v3.7h-3.7zM7.4 33.3h3.7v3.7h-3.7zM7.4 66.6h3.7v3.7h-3.7zM7.4 74.0h3.7v3.7h-3.7zM7.4 77.7h3.7v3.7h-3.7zM11.1 7.4h3.7v3.7h-3.7zM11.1 70.3h3.7v3.7h-3.7zM14.8 3.7h3.7v3.7h-3.7zM14.8 22.2h3.7v3.7h-3.7zM14.8 44.4h3.7v3.7h-3.7zM14.8 48.1h3.7v3.7h-3.7zM14.8 55.5h3.7v3.7h-3.7zM14.8 62.9h3.7v3.7h-3.7zM18.5 22.2h3.7v3.7h-3.7zM18.5 70.3h3.7v3.7h-3.7zM22.2 33.3h3.7v3.7h-3.7zM22.2 48.1h3.7v3.7h-3.7zM22.2 51.8h3.7v3.7h-3.7zM22.2 66.6h3.7v3.7h-3.7zM25.9 25.9h3.7v3.7h-3.7zM25.9 33.3h3.7v3.7h-3.7zM25.9 62.9h3.7v3.7h-3.7zM25.9 70.3h3.7v3.7h-3.7zM25.9 77.7h3.7v3.7h-3.7zM29.6 0.0h3.7v3.7h-3.7zM29.6 11.1h3.7v3.7h-3.7zM29.6 14.8h3.7v3.7h-3.7zM29.6 29.6h3.7v3.7h-3.7zM29.6 33.3h3.7v3.7h-3.7zM29.6 44.4h3.7v3.7h-3.7zM29.6 70.3h3.7v3.7h-3.7zM33.3 7.4h3.7v3.7h-3.7zM33.3 22.2h3.7v3.7h-3.7zM33.3 44.4h3.7v3.7h-3.7zM33.3 66.6h3.7v3.7h-3.7zM37.0 25.9h3.7v3.7h-3.7zM37.0 77.7h3.7v3.7h-3.7zM40.7 7.4h3.7v3.7h-3.7zM40.7 14.8h3.7v3.7h-3.7zM40.7 77.7h3.7v3.7h-3.7zM44.4 0.0h3.7v3.7h-3.7zM44.4 3.7h3.7v3.7h-3.7zM44.4 22.2h3.7v3.7h-3.7zM48.1 14.8h3.7v3.7h-3.7zM48.1 40.7h3.7v3.7h-3.7zM48.1 44.4h3.7v3.7h-3.7zM48.1 48.1h3.7v3.7h-3.7zM48.1 74.0h3.7v3.7h-3.7zM51.8 0.0h3.7v3.7h-3.7zM51.8 7.4h3.7v3.7h-3.7zM51.8 14.8h3.7v3.7h-3.7zM51.8 22.2h3.7v3.7h-3.7zM51.8 37.0h3.7v3.7h-3.7zM55.5 3.7h3.7v3.7h-3.7zM55.5 25.9h3.7v3.7h-3.7zM55.5 29.6h3.7v3.7h-3.7zM59.2 7.4h3.7v3.7h-3.7zM59.2 14.8h3.7v3.7h-3.7zM59.2 25.9h3.7v3.7h-3.7zM59.2 59.2h3.7v3.7h-3.7zM59.2 70.3h3.7v3.7h-3.7zM59.2 74.0h3.7v3.7h-3.7zM62.9 3.7h3.7v3.7h-3.7zM62.9 22.2h3.7v3.7h-3.7zM62.9 33.3h3.7v3.7h-3.7zM62.9 40.7h3.7v3.7h-3.7zM62.9 44.4h3.7v3.7h-3.7zM62.9 66.6h3.7v3.7h-3.7zM66.6 11.1h3.7v3.7h-3.7zM66.6 40.7h3.7v3.7h-3.7zM66.6 48.1h3.7v3.7h-3.7zM70.3 22.2h3.7v3.7h-3.7zM70.3 25.9h3.7v3.7h-3.7zM70.3 62.9h3.7v3.7h-3.7zM74.0 70.3h3.7v3.7h-3.7zM77.7 7.4h3.7v3.7h-3.7zM77.7 11.1h3.7v3.7h-3.7zM77.7 22.2h3.7v3.7h-3.7zM77.7 66.6h3.7v3.7h-3.7z" fill="#2ce6b4" fill-opacity="0.5"/></pattern>
<linearGradient id="m2g" x1="0" x2="0" y1="0" y2="1"><stop offset="0.000" stop-color="#fff" stop-opacity="0"/><stop offset="0.113" stop-color="#fff" stop-opacity="0"/><stop offset="0.212" stop-color="#fff" stop-opacity="1"/><stop offset="0.750" stop-color="#fff" stop-opacity="1"/><stop offset="0.825" stop-color="#fff" stop-opacity="0"/><stop offset="1.000" stop-color="#fff" stop-opacity="0"/></linearGradient>
<mask id="m2" maskUnits="userSpaceOnUse" x="570" y="130" width="1160" height="400"><rect x="570" y="130" width="1160" height="400" fill="url(#m2g)"/></mask>
<linearGradient id="s3" x1="0" x2="0" y1="0" y2="1"><stop offset="0.000" stop-color="#46f5c8"/><stop offset="0.105" stop-color="#50f5c0"/><stop offset="0.135" stop-color="#96f582"/><stop offset="0.160" stop-color="#dcf532"/><stop offset="0.188" stop-color="#fff000"/><stop offset="0.245" stop-color="#ffd800"/><stop offset="0.312" stop-color="#ffbe00"/><stop offset="0.500" stop-color="#ffb400"/><stop offset="0.688" stop-color="#ffbe00"/><stop offset="0.755" stop-color="#ffd800"/><stop offset="0.805" stop-color="#fff000"/><stop offset="0.860" stop-color="#f0f51e"/><stop offset="0.885" stop-color="#b4f564"/><stop offset="0.907" stop-color="#64f5b4"/><stop offset="0.930" stop-color="#46f5c8"/><stop offset="1.000" stop-color="#46f5c8"/></linearGradient>
<pattern id="n3" width="81.4" height="81.4" patternUnits="userSpaceOnUse"><path d="M0.0 0.0h3.7v3.7h-3.7zM0.0 14.8h3.7v3.7h-3.7zM0.0 18.5h3.7v3.7h-3.7zM0.0 22.2h3.7v3.7h-3.7zM0.0 33.3h3.7v3.7h-3.7zM0.0 44.4h3.7v3.7h-3.7zM0.0 70.3h3.7v3.7h-3.7zM0.0 77.7h3.7v3.7h-3.7zM3.7 29.6h3.7v3.7h-3.7zM3.7 37.0h3.7v3.7h-3.7zM3.7 40.7h3.7v3.7h-3.7zM3.7 55.5h3.7v3.7h-3.7zM3.7 59.2h3.7v3.7h-3.7zM3.7 62.9h3.7v3.7h-3.7zM7.4 7.4h3.7v3.7h-3.7zM7.4 14.8h3.7v3.7h-3.7zM7.4 33.3h3.7v3.7h-3.7zM7.4 48.1h3.7v3.7h-3.7zM7.4 51.8h3.7v3.7h-3.7zM7.4 62.9h3.7v3.7h-3.7zM7.4 77.7h3.7v3.7h-3.7zM11.1 0.0h3.7v3.7h-3.7zM11.1 3.7h3.7v3.7h-3.7zM11.1 18.5h3.7v3.7h-3.7zM11.1 40.7h3.7v3.7h-3.7zM11.1 48.1h3.7v3.7h-3.7zM11.1 51.8h3.7v3.7h-3.7zM11.1 59.2h3.7v3.7h-3.7zM11.1 70.3h3.7v3.7h-3.7zM14.8 37.0h3.7v3.7h-3.7zM14.8 70.3h3.7v3.7h-3.7zM18.5 3.7h3.7v3.7h-3.7zM18.5 11.1h3.7v3.7h-3.7zM18.5 25.9h3.7v3.7h-3.7zM18.5 29.6h3.7v3.7h-3.7zM18.5 33.3h3.7v3.7h-3.7zM18.5 44.4h3.7v3.7h-3.7zM18.5 48.1h3.7v3.7h-3.7zM18.5 70.3h3.7v3.7h-3.7zM22.2 3.7h3.7v3.7h-3.7zM22.2 7.4h3.7v3.7h-3.7zM22.2 11.1h3.7v3.7h-3.7zM22.2 22.2h3.7v3.7h-3.7zM22.2 29.6h3.7v3.7h-3.7zM22.2 33.3h3.7v3.7h-3.7zM22.2 48.1h3.7v3.7h-3.7zM22.2 55.5h3.7v3.7h-3.7zM22.2 62.9h3.7v3.7h-3.7zM25.9 7.4h3.7v3.7h-3.7zM25.9 25.9h3.7v3.7h-3.7zM25.9 29.6h3.7v3.7h-3.7zM25.9 33.3h3.7v3.7h-3.7zM25.9 37.0h3.7v3.7h-3.7zM25.9 51.8h3.7v3.7h-3.7zM25.9 77.7h3.7v3.7h-3.7zM29.6 0.0h3.7v3.7h-3.7zM29.6 37.0h3.7v3.7h-3.7zM29.6 44.4h3.7v3.7h-3.7zM29.6 77.7h3.7v3.7h-3.7zM33.3 3.7h3.7v3.7h-3.7zM33.3 18.5h3.7v3.7h-3.7zM37.0 18.5h3.7v3.7h-3.7zM37.0 37.0h3.7v3.7h-3.7zM37.0 55.5h3.7v3.7h-3.7zM37.0 59.2h3.7v3.7h-3.7zM37.0 62.9h3.7v3.7h-3.7zM40.7 3.7h3.7v3.7h-3.7zM40.7 7.4h3.7v3.7h-3.7zM40.7 29.6h3.7v3.7h-3.7zM40.7 48.1h3.7v3.7h-3.7zM40.7 70.3h3.7v3.7h-3.7zM44.4 7.4h3.7v3.7h-3.7zM44.4 11.1h3.7v3.7h-3.7zM44.4 14.8h3.7v3.7h-3.7zM44.4 33.3h3.7v3.7h-3.7zM44.4 44.4h3.7v3.7h-3.7zM44.4 55.5h3.7v3.7h-3.7zM44.4 59.2h3.7v3.7h-3.7zM44.4 66.6h3.7v3.7h-3.7zM44.4 70.3h3.7v3.7h-3.7zM48.1 18.5h3.7v3.7h-3.7zM48.1 25.9h3.7v3.7h-3.7zM48.1 29.6h3.7v3.7h-3.7zM48.1 33.3h3.7v3.7h-3.7zM48.1 37.0h3.7v3.7h-3.7zM48.1 40.7h3.7v3.7h-3.7zM48.1 44.4h3.7v3.7h-3.7zM48.1 70.3h3.7v3.7h-3.7zM48.1 77.7h3.7v3.7h-3.7zM51.8 7.4h3.7v3.7h-3.7zM51.8 37.0h3.7v3.7h-3.7zM51.8 59.2h3.7v3.7h-3.7zM51.8 62.9h3.7v3.7h-3.7zM55.5 11.1h3.7v3.7h-3.7zM55.5 22.2h3.7v3.7h-3.7zM55.5 33.3h3.7v3.7h-3.7zM55.5 40.7h3.7v3.7h-3.7zM59.2 3.7h3.7v3.7h-3.7zM59.2 18.5h3.7v3.7h-3.7zM59.2 25.9h3.7v3.7h-3.7zM59.2 59.2h3.7v3.7h-3.7zM59.2 70.3h3.7v3.7h-3.7zM62.9 0.0h3.7v3.7h-3.7zM62.9 70.3h3.7v3.7h-3.7zM62.9 74.0h3.7v3.7h-3.7zM62.9 77.7h3.7v3.7h-3.7zM66.6 0.0h3.7v3.7h-3.7zM66.6 7.4h3.7v3.7h-3.7zM66.6 37.0h3.7v3.7h-3.7zM66.6 44.4h3.7v3.7h-3.7zM66.6 48.1h3.7v3.7h-3.7zM66.6 62.9h3.7v3.7h-3.7zM66.6 66.6h3.7v3.7h-3.7zM70.3 7.4h3.7v3.7h-3.7zM70.3 18.5h3.7v3.7h-3.7zM70.3 29.6h3.7v3.7h-3.7zM70.3 48.1h3.7v3.7h-3.7zM70.3 59.2h3.7v3.7h-3.7zM70.3 66.6h3.7v3.7h-3.7zM70.3 77.7h3.7v3.7h-3.7zM74.0 7.4h3.7v3.7h-3.7zM74.0 25.9h3.7v3.7h-3.7zM74.0 33.3h3.7v3.7h-3.7zM74.0 70.3h3.7v3.7h-3.7zM74.0 74.0h3.7v3.7h-3.7zM77.7 0.0h3.7v3.7h-3.7zM77.7 3.7h3.7v3.7h-3.7zM77.7 11.1h3.7v3.7h-3.7zM77.7 18.5h3.7v3.7h-3.7zM77.7 25.9h3.7v3.7h-3.7zM77.7 33.3h3.7v3.7h-3.7zM77.7 40.7h3.7v3.7h-3.7zM77.7 48.1h3.7v3.7h-3.7zM77.7 62.9h3.7v3.7h-3.7zM77.7 74.0h3.7v3.7h-3.7z" fill="#fff000" fill-opacity="0.85"/><path d="M0.0 3.7h3.7v3.7h-3.7zM0.0 7.4h3.7v3.7h-3.7zM0.0 14.8h3.7v3.7h-3.7zM0.0 18.5h3.7v3.7h-3.7zM0.0 22.2h3.7v3.7h-3.7zM0.0 29.6h3.7v3.7h-3.7zM0.0 66.6h3.7v3.7h-3.7zM0.0 77.7h3.7v3.7h-3.7zM3.7 59.2h3.7v3.7h-3.7zM3.7 62.9h3.7v3.7h-3.7zM3.7 66.6h3.7v3.7h-3.7zM3.7 74.0h3.7v3.7h-3.7zM3.7 77.7h3.7v3.7h-3.7zM7.4 0.0h3.7v3.7h-3.7zM7.4 11.1h3.7v3.7h-3.7zM7.4 14.8h3.7v3.7h-3.7zM7.4 37.0h3.7v3.7h-3.7zM7.4 48.1h3.7v3.7h-3.7zM7.4 70.3h3.7v3.7h-3.7zM11.1 0.0h3.7v3.7h-3.7zM11.1 18.5h3.7v3.7h-3.7zM11.1 22.2h3.7v3.7h-3.7zM11.1 29.6h3.7v3.7h-3.7zM11.1 66.6h3.7v3.7h-3.7zM11.1 70.3h3.7v3.7h-3.7zM14.8 0.0h3.7v3.7h-3.7zM14.8 22.2h3.7v3.7h-3.7zM14.8 44.4h3.7v3.7h-3.7zM14.8 62.9h3.7v3.7h-3.7zM14.8 66.6h3.7v3.7h-3.7zM14.8 70.3h3.7v3.7h-3.7zM18.5 3.7h3.7v3.7h-3.7zM18.5 11.1h3.7v3.7h-3.7zM18.5 14.8h3.7v3.7h-3.7zM18.5 22.2h3.7v3.7h-3.7zM18.5 25.9h3.7v3.7h-3.7zM18.5 48.1h3.7v3.7h-3.7zM18.5 51.8h3.7v3.7h-3.7zM18.5 66.6h3.7v3.7h-3.7zM18.5 74.0h3.7v3.7h-3.7zM22.2 0.0h3.7v3.7h-3.7zM22.2 22.2h3.7v3.7h-3.7zM22.2 66.6h3.7v3.7h-3.7zM25.9 3.7h3.7v3.7h-3.7zM25.9 7.4h3.7v3.7h-3.7zM25.9 18.5h3.7v3.7h-3.7zM25.9 70.3h3.7v3.7h-3.7zM25.9 77.7h3.7v3.7h-3.7zM29.6 7.4h3.7v3.7h-3.7zM29.6 29.6h3.7v3.7h-3.7zM29.6 33.3h3.7v3.7h-3.7zM29.6 66.6h3.7v3.7h-3.7zM29.6 70.3h3.7v3.7h-3.7zM29.6 77.7h3.7v3.7h-3.7zM33.3 7.4h3.7v3.7h-3.7zM33.3 14.8h3.7v3.7h-3.7zM33.3 18.5h3.7v3.7h-3.7zM33.3 40.7h3.7v3.7h-3.7zM33.3 48.1h3.7v3.7h-3.7zM33.3 59.2h3.7v3.7h-3.7zM33.3 62.9h3.7v3.7h-3.7zM37.0 3.7h3.7v3.7h-3.7zM37.0 11.1h3.7v3.7h-3.7zM37.0 14.8h3.7v3.7h-3.7zM37.0 22.2h3.7v3.7h-3.7zM37.0 29.6h3.7v3.7h-3.7zM37.0 33.3h3.7v3.7h-3.7zM37.0 37.0h3.7v3.7h-3.7zM37.0 40.7h3.7v3.7h-3.7zM37.0 44.4h3.7v3.7h-3.7zM37.0 51.8h3.7v3.7h-3.7zM37.0 59.2h3.7v3.7h-3.7zM37.0 66.6h3.7v3.7h-3.7zM37.0 74.0h3.7v3.7h-3.7zM37.0 77.7h3.7v3.7h-3.7zM40.7 18.5h3.7v3.7h-3.7zM40.7 29.6h3.7v3.7h-3.7zM40.7 37.0h3.7v3.7h-3.7zM40.7 44.4h3.7v3.7h-3.7zM40.7 51.8h3.7v3.7h-3.7zM40.7 59.2h3.7v3.7h-3.7zM40.7 62.9h3.7v3.7h-3.7zM40.7 66.6h3.7v3.7h-3.7zM44.4 3.7h3.7v3.7h-3.7zM44.4 7.4h3.7v3.7h-3.7zM44.4 29.6h3.7v3.7h-3.7zM44.4 62.9h3.7v3.7h-3.7zM44.4 70.3h3.7v3.7h-3.7zM44.4 77.7h3.7v3.7h-3.7zM48.1 7.4h3.7v3.7h-3.7zM48.1 11.1h3.7v3.7h-3.7zM48.1 37.0h3.7v3.7h-3.7zM48.1 44.4h3.7v3.7h-3.7zM48.1 48.1h3.7v3.7h-3.7zM48.1 70.3h3.7v3.7h-3.7zM51.8 3.7h3.7v3.7h-3.7zM51.8 33.3h3.7v3.7h-3.7zM51.8 40.7h3.7v3.7h-3.7zM51.8 48.1h3.7v3.7h-3.7zM51.8 59.2h3.7v3.7h-3.7zM51.8 66.6h3.7v3.7h-3.7zM51.8 74.0h3.7v3.7h-3.7zM55.5 11.1h3.7v3.7h-3.7zM55.5 18.5h3.7v3.7h-3.7zM55.5 29.6h3.7v3.7h-3.7zM55.5 37.0h3.7v3.7h-3.7zM55.5 48.1h3.7v3.7h-3.7zM55.5 59.2h3.7v3.7h-3.7zM55.5 66.6h3.7v3.7h-3.7zM55.5 70.3h3.7v3.7h-3.7zM55.5 74.0h3.7v3.7h-3.7zM59.2 0.0h3.7v3.7h-3.7zM59.2 11.1h3.7v3.7h-3.7zM59.2 18.5h3.7v3.7h-3.7zM59.2 22.2h3.7v3.7h-3.7zM59.2 25.9h3.7v3.7h-3.7zM59.2 29.6h3.7v3.7h-3.7zM59.2 44.4h3.7v3.7h-3.7zM59.2 48.1h3.7v3.7h-3.7zM59.2 74.0h3.7v3.7h-3.7zM59.2 77.7h3.7v3.7h-3.7zM62.9 11.1h3.7v3.7h-3.7zM62.9 18.5h3.7v3.7h-3.7zM62.9 25.9h3.7v3.7h-3.7zM62.9 40.7h3.7v3.7h-3.7zM62.9 48.1h3.7v3.7h-3.7zM62.9 55.5h3.7v3.7h-3.7zM62.9 59.2h3.7v3.7h-3.7zM62.9 62.9h3.7v3.7h-3.7zM62.9 77.7h3.7v3.7h-3.7zM66.6 3.7h3.7v3.7h-3.7zM66.6 18.5h3.7v3.7h-3.7zM66.6 37.0h3.7v3.7h-3.7zM66.6 55.5h3.7v3.7h-3.7zM66.6 77.7h3.7v3.7h-3.7zM70.3 11.1h3.7v3.7h-3.7zM70.3 44.4h3.7v3.7h-3.7zM70.3 55.5h3.7v3.7h-3.7zM70.3 62.9h3.7v3.7h-3.7zM74.0 14.8h3.7v3.7h-3.7zM74.0 29.6h3.7v3.7h-3.7zM74.0 37.0h3.7v3.7h-3.7zM74.0 44.4h3.7v3.7h-3.7zM74.0 51.8h3.7v3.7h-3.7zM74.0 55.5h3.7v3.7h-3.7zM74.0 62.9h3.7v3.7h-3.7zM74.0 66.6h3.7v3.7h-3.7zM74.0 74.0h3.7v3.7h-3.7zM77.7 3.7h3.7v3.7h-3.7zM77.7 18.5h3.7v3.7h-3.7zM77.7 22.2h3.7v3.7h-3.7zM77.7 40.7h3.7v3.7h-3.7zM77.7 44.4h3.7v3.7h-3.7zM77.7 55.5h3.7v3.7h-3.7zM77.7 62.9h3.7v3.7h-3.7zM77.7 77.7h3.7v3.7h-3.7z" fill="#ff8200" fill-opacity="0.85"/><path d="M18.5 51.8h3.7v3.7h-3.7zM18.5 77.7h3.7v3.7h-3.7zM22.2 44.4h3.7v3.7h-3.7zM37.0 22.2h3.7v3.7h-3.7zM37.0 59.2h3.7v3.7h-3.7zM40.7 25.9h3.7v3.7h-3.7zM44.4 74.0h3.7v3.7h-3.7zM48.1 44.4h3.7v3.7h-3.7zM51.8 0.0h3.7v3.7h-3.7zM66.6 55.5h3.7v3.7h-3.7zM70.3 29.6h3.7v3.7h-3.7zM70.3 44.4h3.7v3.7h-3.7zM74.0 29.6h3.7v3.7h-3.7z" fill="#96f582" fill-opacity="0.8"/></pattern>
<linearGradient id="m3g" x1="0" x2="0" y1="0" y2="1"><stop offset="0.000" stop-color="#fff" stop-opacity="0"/><stop offset="0.165" stop-color="#fff" stop-opacity="0"/><stop offset="0.245" stop-color="#fff" stop-opacity="1"/><stop offset="0.775" stop-color="#fff" stop-opacity="1"/><stop offset="0.845" stop-color="#fff" stop-opacity="0"/><stop offset="1.000" stop-color="#fff" stop-opacity="0"/></linearGradient>
<mask id="m3" maskUnits="userSpaceOnUse" x="570" y="130" width="1160" height="400"><rect x="570" y="130" width="1160" height="400" fill="url(#m3g)"/></mask>
<radialGradient id="s3r" cx="0.42" cy="0.5" r="0.55"><stop offset="0" stop-color="#ff8a00" stop-opacity="0.5"/><stop offset="0.6" stop-color="#ff8a00" stop-opacity="0.35"/><stop offset="1" stop-color="#ff8a00" stop-opacity="0"/></radialGradient>
<linearGradient id="s4" x1="0" x2="0" y1="0" y2="1"><stop offset="0.000" stop-color="#a01404"/><stop offset="0.075" stop-color="#9a1204"/><stop offset="0.115" stop-color="#8c0d02"/><stop offset="0.135" stop-color="#8c0d02"/><stop offset="0.850" stop-color="#8c0d02"/><stop offset="0.880" stop-color="#a82406"/><stop offset="0.905" stop-color="#cc500c"/><stop offset="0.925" stop-color="#d88a18"/><stop offset="0.943" stop-color="#bea028"/><stop offset="0.963" stop-color="#96a532"/><stop offset="1.000" stop-color="#6ea046"/></linearGradient>
<pattern id="n4" width="81.4" height="81.4" patternUnits="userSpaceOnUse"><path d="M0.0 77.7h3.7v3.7h-3.7zM3.7 18.5h3.7v3.7h-3.7zM7.4 62.9h3.7v3.7h-3.7zM11.1 0.0h3.7v3.7h-3.7zM11.1 33.3h3.7v3.7h-3.7zM11.1 40.7h3.7v3.7h-3.7zM14.8 25.9h3.7v3.7h-3.7zM29.6 18.5h3.7v3.7h-3.7zM29.6 48.1h3.7v3.7h-3.7zM29.6 62.9h3.7v3.7h-3.7zM29.6 74.0h3.7v3.7h-3.7zM37.0 7.4h3.7v3.7h-3.7zM37.0 25.9h3.7v3.7h-3.7zM37.0 33.3h3.7v3.7h-3.7zM37.0 40.7h3.7v3.7h-3.7zM37.0 59.2h3.7v3.7h-3.7zM44.4 14.8h3.7v3.7h-3.7zM44.4 66.6h3.7v3.7h-3.7zM48.1 11.1h3.7v3.7h-3.7zM48.1 66.6h3.7v3.7h-3.7zM51.8 3.7h3.7v3.7h-3.7zM51.8 14.8h3.7v3.7h-3.7zM51.8 55.5h3.7v3.7h-3.7zM51.8 70.3h3.7v3.7h-3.7zM59.2 37.0h3.7v3.7h-3.7zM59.2 59.2h3.7v3.7h-3.7zM66.6 33.3h3.7v3.7h-3.7zM66.6 62.9h3.7v3.7h-3.7zM70.3 7.4h3.7v3.7h-3.7zM70.3 22.2h3.7v3.7h-3.7zM70.3 37.0h3.7v3.7h-3.7zM70.3 59.2h3.7v3.7h-3.7zM74.0 0.0h3.7v3.7h-3.7zM74.0 66.6h3.7v3.7h-3.7zM74.0 74.0h3.7v3.7h-3.7zM77.7 29.6h3.7v3.7h-3.7z" fill="#f02408" fill-opacity="0.9"/><path d="M11.1 0.0h3.7v3.7h-3.7zM25.9 37.0h3.7v3.7h-3.7zM51.8 55.5h3.7v3.7h-3.7zM55.5 37.0h3.7v3.7h-3.7zM66.6 14.8h3.7v3.7h-3.7zM70.3 22.2h3.7v3.7h-3.7zM74.0 51.8h3.7v3.7h-3.7zM77.7 7.4h3.7v3.7h-3.7zM77.7 62.9h3.7v3.7h-3.7z" fill="#ff8c14" fill-opacity="0.95"/><path d="M25.9 74.0h3.7v3.7h-3.7zM59.2 59.2h3.7v3.7h-3.7z" fill="#ffe632" fill-opacity="0.95"/></pattern>
<linearGradient id="m4g" x1="0" x2="0" y1="0" y2="1"><stop offset="0.000" stop-color="#fff" stop-opacity="1"/><stop offset="0.175" stop-color="#fff" stop-opacity="1"/><stop offset="0.325" stop-color="#fff" stop-opacity="0.8"/><stop offset="0.500" stop-color="#fff" stop-opacity="0.7"/><stop offset="0.775" stop-color="#fff" stop-opacity="0.85"/><stop offset="0.850" stop-color="#fff" stop-opacity="1"/><stop offset="1.000" stop-color="#fff" stop-opacity="1"/></linearGradient>
<mask id="m4" maskUnits="userSpaceOnUse" x="570" y="130" width="1160" height="400"><rect x="570" y="130" width="1160" height="400" fill="url(#m4g)"/></mask>
<pattern id="n4t" width="81.4" height="81.4" patternUnits="userSpaceOnUse"><path d="M0.0 0.0h3.7v3.7h-3.7zM0.0 3.7h3.7v3.7h-3.7zM0.0 11.1h3.7v3.7h-3.7zM0.0 22.2h3.7v3.7h-3.7zM0.0 29.6h3.7v3.7h-3.7zM0.0 33.3h3.7v3.7h-3.7zM0.0 40.7h3.7v3.7h-3.7zM0.0 48.1h3.7v3.7h-3.7zM0.0 51.8h3.7v3.7h-3.7zM0.0 62.9h3.7v3.7h-3.7zM0.0 77.7h3.7v3.7h-3.7zM3.7 3.7h3.7v3.7h-3.7zM3.7 7.4h3.7v3.7h-3.7zM3.7 11.1h3.7v3.7h-3.7zM3.7 18.5h3.7v3.7h-3.7zM3.7 22.2h3.7v3.7h-3.7zM3.7 33.3h3.7v3.7h-3.7zM3.7 37.0h3.7v3.7h-3.7zM3.7 44.4h3.7v3.7h-3.7zM3.7 51.8h3.7v3.7h-3.7zM3.7 55.5h3.7v3.7h-3.7zM3.7 59.2h3.7v3.7h-3.7zM3.7 66.6h3.7v3.7h-3.7zM3.7 74.0h3.7v3.7h-3.7zM3.7 77.7h3.7v3.7h-3.7zM7.4 7.4h3.7v3.7h-3.7zM7.4 11.1h3.7v3.7h-3.7zM7.4 22.2h3.7v3.7h-3.7zM7.4 29.6h3.7v3.7h-3.7zM7.4 44.4h3.7v3.7h-3.7zM7.4 48.1h3.7v3.7h-3.7zM7.4 51.8h3.7v3.7h-3.7zM7.4 62.9h3.7v3.7h-3.7zM7.4 66.6h3.7v3.7h-3.7zM7.4 70.3h3.7v3.7h-3.7zM7.4 74.0h3.7v3.7h-3.7zM11.1 3.7h3.7v3.7h-3.7zM11.1 7.4h3.7v3.7h-3.7zM11.1 18.5h3.7v3.7h-3.7zM11.1 22.2h3.7v3.7h-3.7zM11.1 25.9h3.7v3.7h-3.7zM11.1 37.0h3.7v3.7h-3.7zM11.1 44.4h3.7v3.7h-3.7zM11.1 55.5h3.7v3.7h-3.7zM11.1 62.9h3.7v3.7h-3.7zM11.1 66.6h3.7v3.7h-3.7zM11.1 70.3h3.7v3.7h-3.7zM11.1 74.0h3.7v3.7h-3.7zM11.1 77.7h3.7v3.7h-3.7zM14.8 14.8h3.7v3.7h-3.7zM14.8 18.5h3.7v3.7h-3.7zM14.8 22.2h3.7v3.7h-3.7zM14.8 29.6h3.7v3.7h-3.7zM14.8 33.3h3.7v3.7h-3.7zM14.8 44.4h3.7v3.7h-3.7zM14.8 48.1h3.7v3.7h-3.7zM14.8 51.8h3.7v3.7h-3.7zM14.8 62.9h3.7v3.7h-3.7zM14.8 66.6h3.7v3.7h-3.7zM14.8 74.0h3.7v3.7h-3.7zM18.5 0.0h3.7v3.7h-3.7zM18.5 7.4h3.7v3.7h-3.7zM18.5 25.9h3.7v3.7h-3.7zM18.5 29.6h3.7v3.7h-3.7zM18.5 37.0h3.7v3.7h-3.7zM18.5 44.4h3.7v3.7h-3.7zM18.5 51.8h3.7v3.7h-3.7zM18.5 59.2h3.7v3.7h-3.7zM18.5 70.3h3.7v3.7h-3.7zM22.2 7.4h3.7v3.7h-3.7zM22.2 14.8h3.7v3.7h-3.7zM22.2 18.5h3.7v3.7h-3.7zM22.2 22.2h3.7v3.7h-3.7zM22.2 25.9h3.7v3.7h-3.7zM22.2 44.4h3.7v3.7h-3.7zM22.2 48.1h3.7v3.7h-3.7zM22.2 55.5h3.7v3.7h-3.7zM22.2 59.2h3.7v3.7h-3.7zM22.2 66.6h3.7v3.7h-3.7zM22.2 74.0h3.7v3.7h-3.7zM25.9 0.0h3.7v3.7h-3.7zM25.9 11.1h3.7v3.7h-3.7zM25.9 14.8h3.7v3.7h-3.7zM25.9 18.5h3.7v3.7h-3.7zM25.9 25.9h3.7v3.7h-3.7zM25.9 40.7h3.7v3.7h-3.7zM25.9 51.8h3.7v3.7h-3.7zM25.9 55.5h3.7v3.7h-3.7zM25.9 59.2h3.7v3.7h-3.7zM25.9 70.3h3.7v3.7h-3.7zM25.9 77.7h3.7v3.7h-3.7zM29.6 3.7h3.7v3.7h-3.7zM29.6 7.4h3.7v3.7h-3.7zM29.6 14.8h3.7v3.7h-3.7zM29.6 22.2h3.7v3.7h-3.7zM29.6 33.3h3.7v3.7h-3.7zM29.6 37.0h3.7v3.7h-3.7zM29.6 40.7h3.7v3.7h-3.7zM29.6 44.4h3.7v3.7h-3.7zM29.6 59.2h3.7v3.7h-3.7zM29.6 66.6h3.7v3.7h-3.7zM29.6 74.0h3.7v3.7h-3.7zM33.3 0.0h3.7v3.7h-3.7zM33.3 3.7h3.7v3.7h-3.7zM33.3 11.1h3.7v3.7h-3.7zM33.3 14.8h3.7v3.7h-3.7zM33.3 18.5h3.7v3.7h-3.7zM33.3 22.2h3.7v3.7h-3.7zM33.3 25.9h3.7v3.7h-3.7zM33.3 51.8h3.7v3.7h-3.7zM33.3 55.5h3.7v3.7h-3.7zM33.3 62.9h3.7v3.7h-3.7zM33.3 66.6h3.7v3.7h-3.7zM33.3 74.0h3.7v3.7h-3.7zM33.3 77.7h3.7v3.7h-3.7zM37.0 3.7h3.7v3.7h-3.7zM37.0 14.8h3.7v3.7h-3.7zM37.0 18.5h3.7v3.7h-3.7zM37.0 22.2h3.7v3.7h-3.7zM37.0 29.6h3.7v3.7h-3.7zM37.0 33.3h3.7v3.7h-3.7zM37.0 40.7h3.7v3.7h-3.7zM37.0 44.4h3.7v3.7h-3.7zM37.0 55.5h3.7v3.7h-3.7zM37.0 59.2h3.7v3.7h-3.7zM37.0 70.3h3.7v3.7h-3.7zM37.0 77.7h3.7v3.7h-3.7zM40.7 3.7h3.7v3.7h-3.7zM40.7 11.1h3.7v3.7h-3.7zM40.7 22.2h3.7v3.7h-3.7zM40.7 37.0h3.7v3.7h-3.7zM40.7 48.1h3.7v3.7h-3.7zM40.7 55.5h3.7v3.7h-3.7zM40.7 70.3h3.7v3.7h-3.7zM40.7 74.0h3.7v3.7h-3.7zM44.4 3.7h3.7v3.7h-3.7zM44.4 7.4h3.7v3.7h-3.7zM44.4 11.1h3.7v3.7h-3.7zM44.4 14.8h3.7v3.7h-3.7zM44.4 18.5h3.7v3.7h-3.7zM44.4 25.9h3.7v3.7h-3.7zM44.4 29.6h3.7v3.7h-3.7zM44.4 33.3h3.7v3.7h-3.7zM44.4 37.0h3.7v3.7h-3.7zM44.4 40.7h3.7v3.7h-3.7zM44.4 44.4h3.7v3.7h-3.7zM44.4 48.1h3.7v3.7h-3.7zM44.4 51.8h3.7v3.7h-3.7zM44.4 55.5h3.7v3.7h-3.7zM44.4 59.2h3.7v3.7h-3.7zM44.4 62.9h3.7v3.7h-3.7zM44.4 66.6h3.7v3.7h-3.7zM44.4 70.3h3.7v3.7h-3.7zM48.1 18.5h3.7v3.7h-3.7zM48.1 29.6h3.7v3.7h-3.7zM48.1 33.3h3.7v3.7h-3.7zM48.1 37.0h3.7v3.7h-3.7zM48.1 40.7h3.7v3.7h-3.7zM48.1 48.1h3.7v3.7h-3.7zM48.1 51.8h3.7v3.7h-3.7zM48.1 59.2h3.7v3.7h-3.7zM48.1 74.0h3.7v3.7h-3.7zM51.8 0.0h3.7v3.7h-3.7zM51.8 3.7h3.7v3.7h-3.7zM51.8 11.1h3.7v3.7h-3.7zM51.8 22.2h3.7v3.7h-3.7zM51.8 29.6h3.7v3.7h-3.7zM51.8 55.5h3.7v3.7h-3.7zM51.8 62.9h3.7v3.7h-3.7zM51.8 66.6h3.7v3.7h-3.7zM51.8 74.0h3.7v3.7h-3.7zM51.8 77.7h3.7v3.7h-3.7zM55.5 0.0h3.7v3.7h-3.7zM55.5 3.7h3.7v3.7h-3.7zM55.5 11.1h3.7v3.7h-3.7zM55.5 14.8h3.7v3.7h-3.7zM55.5 25.9h3.7v3.7h-3.7zM55.5 37.0h3.7v3.7h-3.7zM55.5 40.7h3.7v3.7h-3.7zM55.5 44.4h3.7v3.7h-3.7zM55.5 66.6h3.7v3.7h-3.7zM55.5 70.3h3.7v3.7h-3.7zM59.2 0.0h3.7v3.7h-3.7zM59.2 7.4h3.7v3.7h-3.7zM59.2 25.9h3.7v3.7h-3.7zM59.2 33.3h3.7v3.7h-3.7zM59.2 37.0h3.7v3.7h-3.7zM59.2 44.4h3.7v3.7h-3.7zM59.2 51.8h3.7v3.7h-3.7zM59.2 55.5h3.7v3.7h-3.7zM59.2 59.2h3.7v3.7h-3.7zM59.2 66.6h3.7v3.7h-3.7zM59.2 77.7h3.7v3.7h-3.7zM62.9 0.0h3.7v3.7h-3.7zM62.9 7.4h3.7v3.7h-3.7zM62.9 11.1h3.7v3.7h-3.7zM62.9 22.2h3.7v3.7h-3.7zM62.9 25.9h3.7v3.7h-3.7zM62.9 37.0h3.7v3.7h-3.7zM62.9 40.7h3.7v3.7h-3.7zM62.9 51.8h3.7v3.7h-3.7zM62.9 70.3h3.7v3.7h-3.7zM62.9 77.7h3.7v3.7h-3.7zM66.6 0.0h3.7v3.7h-3.7zM66.6 11.1h3.7v3.7h-3.7zM66.6 14.8h3.7v3.7h-3.7zM66.6 18.5h3.7v3.7h-3.7zM66.6 22.2h3.7v3.7h-3.7zM66.6 25.9h3.7v3.7h-3.7zM66.6 33.3h3.7v3.7h-3.7zM66.6 44.4h3.7v3.7h-3.7zM66.6 48.1h3.7v3.7h-3.7zM66.6 51.8h3.7v3.7h-3.7zM66.6 62.9h3.7v3.7h-3.7zM66.6 66.6h3.7v3.7h-3.7zM66.6 70.3h3.7v3.7h-3.7zM66.6 74.0h3.7v3.7h-3.7zM66.6 77.7h3.7v3.7h-3.7zM70.3 0.0h3.7v3.7h-3.7zM70.3 3.7h3.7v3.7h-3.7zM70.3 7.4h3.7v3.7h-3.7zM70.3 14.8h3.7v3.7h-3.7zM70.3 33.3h3.7v3.7h-3.7zM70.3 40.7h3.7v3.7h-3.7zM70.3 48.1h3.7v3.7h-3.7zM70.3 51.8h3.7v3.7h-3.7zM70.3 62.9h3.7v3.7h-3.7zM70.3 66.6h3.7v3.7h-3.7zM70.3 70.3h3.7v3.7h-3.7zM70.3 77.7h3.7v3.7h-3.7zM74.0 7.4h3.7v3.7h-3.7zM74.0 18.5h3.7v3.7h-3.7zM74.0 25.9h3.7v3.7h-3.7zM74.0 29.6h3.7v3.7h-3.7zM74.0 37.0h3.7v3.7h-3.7zM74.0 40.7h3.7v3.7h-3.7zM74.0 70.3h3.7v3.7h-3.7zM74.0 77.7h3.7v3.7h-3.7zM77.7 3.7h3.7v3.7h-3.7zM77.7 11.1h3.7v3.7h-3.7zM77.7 37.0h3.7v3.7h-3.7zM77.7 48.1h3.7v3.7h-3.7zM77.7 59.2h3.7v3.7h-3.7zM77.7 62.9h3.7v3.7h-3.7zM77.7 66.6h3.7v3.7h-3.7zM77.7 70.3h3.7v3.7h-3.7zM77.7 74.0h3.7v3.7h-3.7z" fill="#ff2a08" fill-opacity="0.95"/><path d="M0.0 25.9h3.7v3.7h-3.7zM0.0 55.5h3.7v3.7h-3.7zM3.7 18.5h3.7v3.7h-3.7zM7.4 7.4h3.7v3.7h-3.7zM7.4 33.3h3.7v3.7h-3.7zM7.4 40.7h3.7v3.7h-3.7zM7.4 77.7h3.7v3.7h-3.7zM11.1 3.7h3.7v3.7h-3.7zM11.1 29.6h3.7v3.7h-3.7zM11.1 37.0h3.7v3.7h-3.7zM11.1 51.8h3.7v3.7h-3.7zM11.1 59.2h3.7v3.7h-3.7zM14.8 14.8h3.7v3.7h-3.7zM14.8 25.9h3.7v3.7h-3.7zM14.8 44.4h3.7v3.7h-3.7zM14.8 59.2h3.7v3.7h-3.7zM14.8 66.6h3.7v3.7h-3.7zM14.8 74.0h3.7v3.7h-3.7zM18.5 29.6h3.7v3.7h-3.7zM18.5 77.7h3.7v3.7h-3.7zM22.2 0.0h3.7v3.7h-3.7zM22.2 18.5h3.7v3.7h-3.7zM22.2 25.9h3.7v3.7h-3.7zM25.9 40.7h3.7v3.7h-3.7zM25.9 62.9h3.7v3.7h-3.7zM29.6 22.2h3.7v3.7h-3.7zM29.6 48.1h3.7v3.7h-3.7zM29.6 74.0h3.7v3.7h-3.7zM33.3 33.3h3.7v3.7h-3.7zM37.0 14.8h3.7v3.7h-3.7zM37.0 51.8h3.7v3.7h-3.7zM40.7 18.5h3.7v3.7h-3.7zM40.7 59.2h3.7v3.7h-3.7zM44.4 33.3h3.7v3.7h-3.7zM44.4 51.8h3.7v3.7h-3.7zM48.1 29.6h3.7v3.7h-3.7zM48.1 48.1h3.7v3.7h-3.7zM48.1 62.9h3.7v3.7h-3.7zM48.1 70.3h3.7v3.7h-3.7zM48.1 74.0h3.7v3.7h-3.7zM51.8 14.8h3.7v3.7h-3.7zM51.8 66.6h3.7v3.7h-3.7zM51.8 77.7h3.7v3.7h-3.7zM55.5 0.0h3.7v3.7h-3.7zM55.5 40.7h3.7v3.7h-3.7zM55.5 48.1h3.7v3.7h-3.7zM59.2 3.7h3.7v3.7h-3.7zM59.2 33.3h3.7v3.7h-3.7zM59.2 48.1h3.7v3.7h-3.7zM59.2 66.6h3.7v3.7h-3.7zM59.2 74.0h3.7v3.7h-3.7zM59.2 77.7h3.7v3.7h-3.7zM62.9 0.0h3.7v3.7h-3.7zM62.9 3.7h3.7v3.7h-3.7zM62.9 55.5h3.7v3.7h-3.7zM66.6 11.1h3.7v3.7h-3.7zM66.6 18.5h3.7v3.7h-3.7zM70.3 11.1h3.7v3.7h-3.7zM70.3 29.6h3.7v3.7h-3.7zM70.3 33.3h3.7v3.7h-3.7zM70.3 37.0h3.7v3.7h-3.7zM70.3 44.4h3.7v3.7h-3.7zM74.0 0.0h3.7v3.7h-3.7zM74.0 18.5h3.7v3.7h-3.7zM74.0 29.6h3.7v3.7h-3.7zM74.0 77.7h3.7v3.7h-3.7zM77.7 11.1h3.7v3.7h-3.7zM77.7 22.2h3.7v3.7h-3.7zM77.7 44.4h3.7v3.7h-3.7zM77.7 59.2h3.7v3.7h-3.7z" fill="#ff8c14" fill-opacity="0.95"/><path d="M0.0 48.1h3.7v3.7h-3.7zM11.1 7.4h3.7v3.7h-3.7zM14.8 25.9h3.7v3.7h-3.7zM14.8 55.5h3.7v3.7h-3.7zM18.5 11.1h3.7v3.7h-3.7zM18.5 48.1h3.7v3.7h-3.7zM22.2 59.2h3.7v3.7h-3.7zM29.6 14.8h3.7v3.7h-3.7zM44.4 18.5h3.7v3.7h-3.7zM48.1 14.8h3.7v3.7h-3.7zM48.1 40.7h3.7v3.7h-3.7zM51.8 37.0h3.7v3.7h-3.7zM55.5 29.6h3.7v3.7h-3.7zM59.2 11.1h3.7v3.7h-3.7zM59.2 14.8h3.7v3.7h-3.7zM62.9 14.8h3.7v3.7h-3.7zM66.6 0.0h3.7v3.7h-3.7zM70.3 62.9h3.7v3.7h-3.7zM74.0 11.1h3.7v3.7h-3.7zM77.7 62.9h3.7v3.7h-3.7zM77.7 66.6h3.7v3.7h-3.7z" fill="#ffe632" fill-opacity="0.95"/></pattern>
<linearGradient id="m4tg" x1="0" x2="0" y1="0" y2="1"><stop offset="0.000" stop-color="#fff" stop-opacity="1"/><stop offset="0.080" stop-color="#fff" stop-opacity="1"/><stop offset="0.115" stop-color="#fff" stop-opacity="0.45"/><stop offset="0.155" stop-color="#fff" stop-opacity="0"/><stop offset="0.875" stop-color="#fff" stop-opacity="0"/><stop offset="0.920" stop-color="#fff" stop-opacity="0.5"/><stop offset="1.000" stop-color="#fff" stop-opacity="0.3"/></linearGradient>
<mask id="m4t" maskUnits="userSpaceOnUse" x="570" y="130" width="1160" height="400"><rect x="570" y="130" width="1160" height="400" fill="url(#m4tg)"/></mask>
<radialGradient id="s4r" cx="0.4" cy="0.55" r="0.5"><stop offset="0" stop-color="#8c0d02" stop-opacity="1"/><stop offset="0.55" stop-color="#8c0d02" stop-opacity="0.85"/><stop offset="1" stop-color="#8c0d02" stop-opacity="0"/></radialGradient>
<filter id="cglow" x="-20%" y="-10%" width="140%" height="120%"><feGaussianBlur stdDeviation="7.5"/></filter>
<radialGradient id="bg" cx="0.5" cy="0.5" r="0.5" fx="0.43" fy="0.33"><stop offset="0" stop-color="#f0fffc"/><stop offset="0.22" stop-color="#b4f6dc"/><stop offset="0.6" stop-color="#8fe0bb"/><stop offset="0.88" stop-color="#4a8a70"/><stop offset="1" stop-color="#4a8a70"/></radialGradient>
<radialGradient id="bp" cx="0.5" cy="0.5" r="0.5" fx="0.43" fy="0.33"><stop offset="0" stop-color="#f4f4ff"/><stop offset="0.22" stop-color="#b4b4f8"/><stop offset="0.6" stop-color="#9092e6"/><stop offset="0.88" stop-color="#56569c"/><stop offset="1" stop-color="#56569c"/></radialGradient>
<radialGradient id="bb" cx="0.5" cy="0.5" r="0.5" fx="0.43" fy="0.33"><stop offset="0" stop-color="#b4dcff"/><stop offset="0.22" stop-color="#5a92cc"/><stop offset="0.6" stop-color="#3f6a9e"/><stop offset="0.88" stop-color="#1c3858"/><stop offset="1" stop-color="#1c3858"/></radialGradient>
<radialGradient id="bm" cx="0.5" cy="0.5" r="0.5" fx="0.43" fy="0.33"><stop offset="0" stop-color="#fff0ff"/><stop offset="0.22" stop-color="#fbb0fb"/><stop offset="0.6" stop-color="#ec8eec"/><stop offset="0.88" stop-color="#9a5a9c"/><stop offset="1" stop-color="#9a5a9c"/></radialGradient>
<linearGradient id="dg" gradientUnits="userSpaceOnUse" x1="889.4" y1="699" x2="904.6" y2="868"><stop offset="0" stop-color="#3b9de8"/><stop offset="0.25" stop-color="#3aa4e5"/><stop offset="0.40" stop-color="#38bcdc"/><stop offset="0.493" stop-color="#35d6d2"/><stop offset="0.57" stop-color="#6ec3be"/><stop offset="0.66" stop-color="#b9a8a8"/><stop offset="0.735" stop-color="#eb9898"/><stop offset="0.81" stop-color="#ff9191"/><stop offset="1" stop-color="#ff9191"/></linearGradient>
<linearGradient id="eg" x1="0" x2="1" y1="0" y2="0"><stop offset="0" stop-color="#ad90cc"/><stop offset="0.14" stop-color="#6cb3ee"/><stop offset="0.29" stop-color="#6ee1da"/><stop offset="0.445" stop-color="#b4dc87"/><stop offset="0.605" stop-color="#fde2a8"/><stop offset="0.794" stop-color="#f0af9b"/><stop offset="1" stop-color="#f68c87"/></linearGradient>
</defs>
<g id="panel-a">
<g clip-path="url(#ca)">
<rect x="19" y="67" width="514" height="484" fill="#0f0404"/>
<path d="M125 60H335L305 122L175 128Z" fill="#2c2426" filter="url(#bl12)"/>
<ellipse cx="282" cy="300" rx="250" ry="185" fill="url(#aglow)"/>
<path d="M19 95L135 100L168 132L150 190L85 250L19 290Z" fill="#0c0404" filter="url(#bl12)"/>
<path d="M402 134L470 122L533 135V270L465 225L412 170Z" fill="#0c0404" filter="url(#bl12)"/>
<path d="M164 129Q280 122 397 128.5L396 134Q386 149 360 154Q320 158 285 154.5Q240 146 200 136Z" fill="#d83814" filter="url(#bl3)"/>
<path d="M166 128.5Q280 122.5 397 128L394 132Q280 127 170 131Z" fill="#f04e22" filter="url(#bl3)"/>
<ellipse cx="308" cy="146" rx="50" ry="7" fill="#ff7a44" filter="url(#bl6)"/>
<path d="M170 152Q280 164 392 150L390 436L322 442L323 466Q318 485 301 496L286 482L256 474L254 452L196 447L172 430Z" fill="url(#abody)" filter="url(#bl3)"/>
<path d="M170 152Q280 164 392 150L390 436L196 445L172 430Z" fill="url(#abody)" filter="url(#bl6)"/>
<path d="M170 152Q280 164 392 150L390 436L196 445L172 430Z" fill="url(#atop)" filter="url(#bl6)"/>
<ellipse cx="282" cy="300" rx="55" ry="125" fill="#ff7444" opacity="0.5" filter="url(#bl25)"/>
<ellipse cx="276" cy="215" rx="15" ry="45" fill="#ffb088" opacity="0.8" filter="url(#bl12)"/>
<ellipse cx="226" cy="388" rx="26" ry="48" fill="#ff9a68" opacity="0.85" filter="url(#bl12)"/>
<ellipse cx="209" cy="384" rx="11" ry="38" fill="#ffe4b4" filter="url(#bl6)"/>
<path d="M180 170H386V432H198L180 425Z" fill="#fff" opacity="0.32" filter="url(#spk)"/>
<path d="M286 156Q330 162 366 157L396 160Q380 172 356 170Q320 168 286 160Z" fill="#3a0a04" filter="url(#bl3)"/>
</g>
<rect x="160.8" y="161.5" width="232.4" height="270" fill="none" stroke="#fff" stroke-width="2.7" stroke-dasharray="8.5 3.7"/>
<text x="272.5" y="259" font-size="25.5" text-anchor="middle" fill="#fff">Heat-concentrated</text>
<text x="276.3" y="288.7" font-size="25.5" text-anchor="middle" fill="#fff">heating zone</text>
<text x="201.8" y="520.7" font-size="31.8" fill="#fff">Melted alloy</text>
<text x="423" y="518.2" font-size="35.5" fill="#fff">1 cm</text>
<rect x="416.4" y="527" width="103.2" height="12.5" fill="#fff"/>
<text x="30.8" y="112.2" font-size="42" fill="#fff" font-weight="bold">a</text>
</g>
<g id="panel-b">
<rect x="580" y="68" width="1131.5" height="16.3" fill="url(#jet)"/>
<path d="M580 68.3H1711.5M580 84.3H1711.5V68" stroke="#6a6a6a" stroke-width="0.9" fill="none"/><path d="M957 84v-3.5M1335 84v-3.5" stroke="#333" stroke-width="1"/>
<text x="1120.5" y="26.6" font-size="37.4" text-anchor="middle">Temperature (K)</text>
<text x="542.6" y="59.7" font-size="39.4">1000</text>
<text x="903.6" y="59.7" font-size="39.4">1500</text>
<text x="1285.6" y="59.7" font-size="39.4">2000</text>
<text x="1650.2" y="59.7" font-size="39.4">2500</text>
<text x="543.3" y="111" font-size="41.5" font-weight="bold">b</text>
<rect x="580" y="100.5" width="1133" height="450.5" fill="#000"/>
<rect x="580" y="130" width="280" height="400" fill="url(#s1)"/>
<rect x="580" y="200" width="280" height="250" fill="url(#s1r)"/>
<rect x="580" y="130" width="280" height="400" fill="url(#n1)" mask="url(#m1)"/>
<path d="M735.4 266.2h3.7v3.7h-3.7zM846.4 366.1h3.7v3.7h-3.7zM705.8 244.0h3.7v3.7h-3.7zM716.9 277.3h3.7v3.7h-3.7zM802.0 443.8h3.7v3.7h-3.7zM642.9 295.8h3.7v3.7h-3.7zM765.0 351.3h3.7v3.7h-3.7zM602.2 244.0h3.7v3.7h-3.7zM594.8 258.8h3.7v3.7h-3.7zM635.5 358.7h3.7v3.7h-3.7zM831.6 392.0h3.7v3.7h-3.7zM787.2 303.2h3.7v3.7h-3.7zM772.4 236.6h3.7v3.7h-3.7zM676.2 421.6h3.7v3.7h-3.7zM787.2 251.4h3.7v3.7h-3.7zM698.4 399.4h3.7v3.7h-3.7zM587.4 295.8h3.7v3.7h-3.7zM768.7 299.5h3.7v3.7h-3.7zM672.5 340.2h3.7v3.7h-3.7zM646.6 199.6h3.7v3.7h-3.7zM617.0 170.0h3.7v3.7h-3.7zM672.5 362.4h3.7v3.7h-3.7zM842.7 355.0h3.7v3.7h-3.7zM698.4 295.8h3.7v3.7h-3.7zM694.7 377.2h3.7v3.7h-3.7zM602.2 251.4h3.7v3.7h-3.7zM831.6 225.5h3.7v3.7h-3.7zM591.1 432.7h3.7v3.7h-3.7zM580.0 266.2h3.7v3.7h-3.7zM827.9 292.1h3.7v3.7h-3.7zM813.1 358.7h3.7v3.7h-3.7zM624.4 395.7h3.7v3.7h-3.7zM698.4 458.6h3.7v3.7h-3.7zM687.3 321.7h3.7v3.7h-3.7zM709.5 340.2h3.7v3.7h-3.7zM720.6 295.8h3.7v3.7h-3.7zM624.4 292.1h3.7v3.7h-3.7zM679.9 192.2h3.7v3.7h-3.7zM676.2 251.4h3.7v3.7h-3.7zM750.2 332.8h3.7v3.7h-3.7zM765.0 406.8h3.7v3.7h-3.7zM831.6 266.2h3.7v3.7h-3.7zM609.6 443.8h3.7v3.7h-3.7zM783.5 392.0h3.7v3.7h-3.7zM772.4 251.4h3.7v3.7h-3.7zM761.3 321.7h3.7v3.7h-3.7zM824.2 170.0h3.7v3.7h-3.7zM757.6 473.4h3.7v3.7h-3.7z" fill="#000"/>
<path d="M580.0 101V150.6H591.1V139.5H605.9V150.6H609.6V150.6H624.4V146.9H639.2V146.9H646.6V139.5H650.3V150.6H665.1V139.5H676.2V143.2H679.9V150.6H687.3V146.9H698.4V143.2H709.5V150.6H724.3V143.2H728.0V143.2H742.8V143.2H750.2V143.2H757.6V146.9H761.3V143.2H772.4V143.2H779.8V146.9H790.9V154.3H802.0V143.2H809.4V143.2H824.2V150.6H839.0V146.9H846.4V158.0H850.1V146.9H860.0V101Z" fill="#000"/>
<path d="M580.0 551V520.7H583.7V513.3H587.4V517.0H594.8V509.6H602.2V505.9H613.3V513.3H624.4V509.6H635.5V509.6H650.3V502.2H665.1V513.3H679.9V505.9H683.6V509.6H691.0V513.3H698.4V502.2H713.2V505.9H724.3V505.9H735.4V502.2H742.8V502.2H750.2V498.5H765.0V502.2H772.4V502.2H776.1V502.2H787.2V502.2H798.3V498.5H802.0V502.2H809.4V505.9H820.5V494.8H827.9V498.5H831.6V498.5H846.4V498.5H860.0V551Z" fill="#000"/>
<rect x="860" y="130" width="285.6" height="400" fill="url(#s2)"/>
<rect x="860" y="130" width="285.6" height="400" fill="url(#s2e)" mask="url(#m2e)"/>
<rect x="860" y="130" width="285.6" height="400" fill="url(#n2)" mask="url(#m2)"/>
<path d="M952.4 166.0h3.7v3.7h-3.7zM1093.0 314.0h3.7v3.7h-3.7zM900.6 247.4h14.8v3.7h-14.8zM937.6 306.6h3.7v3.7h-3.7zM900.6 380.6h3.7v3.7h-3.7zM937.6 306.6h3.7v3.7h-3.7zM911.7 321.4h3.7v3.7h-3.7zM900.6 262.2h3.7v3.7h-3.7zM959.8 365.8h3.7v3.7h-3.7zM908.0 425.0h3.7v3.7h-3.7zM1093.0 439.8h3.7v3.7h-3.7zM970.9 206.7h3.7v3.7h-3.7zM1115.2 328.8h3.7v3.7h-3.7zM1011.6 432.4h3.7v3.7h-3.7zM1130.0 332.5h3.7v3.7h-3.7zM967.2 328.8h3.7v3.7h-3.7zM1004.2 225.2h3.7v3.7h-3.7zM1019.0 247.4h3.7v3.7h-3.7zM967.2 247.4h11.1v3.7h-11.1zM1041.2 314.0h3.7v3.7h-3.7zM878.4 373.2h11.1v3.7h-11.1zM908.0 243.7h3.7v3.7h-3.7zM893.2 439.8h3.7v3.7h-3.7zM1100.4 180.8h3.7v3.7h-3.7zM1059.7 354.7h3.7v3.7h-3.7zM1019.0 373.2h3.7v14.8h-3.7zM1115.2 299.2h3.7v18.5h-3.7zM1093.0 343.6h3.7v11.1h-3.7zM1107.8 240.0h3.7v3.7h-3.7zM1137.4 243.7h3.7v3.7h-3.7zM1093.0 217.8h3.7v3.7h-3.7zM989.4 203.0h3.7v3.7h-3.7zM974.6 321.4h3.7v3.7h-3.7zM1081.9 221.5h3.7v3.7h-3.7zM1100.4 217.8h3.7v3.7h-3.7zM1107.8 365.8h3.7v25.9h-3.7zM1107.8 269.6h3.7v3.7h-3.7zM996.8 306.6h3.7v3.7h-3.7zM878.4 476.8h3.7v3.7h-3.7zM1137.4 388.0h3.7v3.7h-3.7zM989.4 410.2h3.7v3.7h-3.7zM945.0 269.6h3.7v25.9h-3.7zM893.2 188.2h3.7v3.7h-3.7zM1070.8 484.2h3.7v3.7h-3.7zM1041.2 351.0h3.7v3.7h-3.7zM1137.4 225.2h3.7v3.7h-3.7zM945.0 306.6h3.7v3.7h-3.7zM893.2 328.8h3.7v3.7h-3.7zM893.2 380.6h3.7v3.7h-3.7zM937.6 454.6h3.7v3.7h-3.7zM1011.6 454.6h3.7v3.7h-3.7zM885.8 432.4h3.7v3.7h-3.7zM908.0 432.4h3.7v3.7h-3.7zM1100.4 365.8h3.7v3.7h-3.7zM952.4 432.4h3.7v11.1h-3.7zM893.2 358.4h3.7v3.7h-3.7zM922.8 306.6h3.7v3.7h-3.7zM908.0 417.6h3.7v3.7h-3.7zM1070.8 447.2h3.7v3.7h-3.7zM989.4 191.9h3.7v25.9h-3.7zM871.0 284.4h3.7v3.7h-3.7zM982.0 328.8h7.4v3.7h-7.4zM889.5 399.1h3.7v3.7h-3.7zM989.4 180.8h3.7v3.7h-3.7zM915.4 321.4h3.7v3.7h-3.7zM989.4 299.2h14.8v3.7h-14.8zM1033.8 262.2h3.7v3.7h-3.7zM1137.4 395.4h3.7v18.5h-3.7zM989.4 269.6h3.7v3.7h-3.7zM937.6 395.4h3.7v3.7h-3.7zM1011.6 310.3h7.4v3.7h-7.4zM1026.4 447.2h3.7v3.7h-3.7zM952.4 277.0h3.7v3.7h-3.7zM908.0 262.2h3.7v3.7h-3.7zM882.1 262.2h3.7v3.7h-3.7zM967.2 210.4h3.7v3.7h-3.7zM908.0 284.4h3.7v3.7h-3.7zM982.0 166.0h3.7v3.7h-3.7zM1070.8 232.6h3.7v3.7h-3.7zM1081.9 347.3h3.7v14.8h-3.7zM1126.3 262.2h3.7v3.7h-3.7zM1026.4 450.9h3.7v3.7h-3.7zM863.6 225.2h3.7v3.7h-3.7zM922.8 439.8h3.7v3.7h-3.7zM959.8 314.0h3.7v3.7h-3.7zM1085.6 373.2h3.7v3.7h-3.7zM989.4 306.6h3.7v3.7h-3.7zM1059.7 391.7h3.7v3.7h-3.7zM1078.2 402.8h3.7v3.7h-3.7zM1130.0 454.6h3.7v3.7h-3.7zM893.2 225.2h3.7v3.7h-3.7zM871.0 254.8h3.7v3.7h-3.7zM922.8 439.8h3.7v3.7h-3.7zM1026.4 358.4h3.7v3.7h-3.7zM959.8 173.4h3.7v3.7h-3.7zM1048.6 232.6h3.7v3.7h-3.7zM1107.8 291.8h3.7v3.7h-3.7zM952.4 284.4h3.7v3.7h-3.7zM1122.6 328.8h3.7v25.9h-3.7zM1137.4 454.6h3.7v3.7h-3.7zM930.2 380.6h3.7v3.7h-3.7zM945.0 447.2h3.7v3.7h-3.7zM1011.6 210.4h3.7v3.7h-3.7zM1048.6 240.0h3.7v11.1h-3.7zM1000.5 410.2h3.7v11.1h-3.7zM1122.6 425.0h3.7v3.7h-3.7zM1007.9 214.1h3.7v3.7h-3.7zM900.6 491.6h3.7v3.7h-3.7zM945.0 439.8h3.7v3.7h-3.7zM1085.6 388.0h3.7v3.7h-3.7zM1107.8 262.2h3.7v3.7h-3.7zM959.8 299.2h3.7v3.7h-3.7zM1122.6 247.4h3.7v3.7h-3.7zM1107.8 321.4h7.4v3.7h-7.4zM970.9 369.5h3.7v3.7h-3.7zM1122.6 336.2h7.4v3.7h-7.4zM1063.4 391.7h3.7v3.7h-3.7zM1100.4 454.6h3.7v3.7h-3.7zM945.0 247.4h3.7v3.7h-3.7zM904.3 473.1h3.7v3.7h-3.7zM1070.8 195.6h3.7v3.7h-3.7zM1026.4 336.2h3.7v3.7h-3.7zM1118.9 388.0h3.7v3.7h-3.7zM989.4 321.4h3.7v25.9h-3.7zM974.6 395.4h3.7v3.7h-3.7zM959.8 373.2h3.7v3.7h-3.7zM945.0 277.0h3.7v3.7h-3.7zM985.7 343.6h3.7v3.7h-3.7zM904.3 332.5h3.7v11.1h-3.7zM874.7 247.4h3.7v3.7h-3.7zM937.6 314.0h3.7v3.7h-3.7zM974.6 388.0h14.8v3.7h-14.8zM1085.6 269.6h3.7v3.7h-3.7zM989.4 269.6h3.7v3.7h-3.7zM945.0 321.4h3.7v3.7h-3.7zM1019.0 277.0h3.7v3.7h-3.7zM945.0 284.4h7.4v3.7h-7.4zM915.4 203.0h3.7v3.7h-3.7zM1137.4 373.2h3.7v3.7h-3.7zM952.4 365.8h3.7v3.7h-3.7zM908.0 225.2h3.7v3.7h-3.7zM982.0 299.2h3.7v3.7h-3.7zM1070.8 284.4h3.7v3.7h-3.7zM1056.0 314.0h3.7v3.7h-3.7zM967.2 328.8h3.7v3.7h-3.7zM930.2 380.6h3.7v3.7h-3.7zM974.6 314.0h3.7v3.7h-3.7zM1063.4 410.2h14.8v3.7h-14.8zM982.0 306.6h11.1v3.7h-11.1zM930.2 432.4h3.7v3.7h-3.7zM1004.2 336.2h3.7v3.7h-3.7zM1070.8 269.6h3.7v3.7h-3.7zM1078.2 402.8h3.7v3.7h-3.7zM996.8 410.2h3.7v3.7h-3.7zM1122.6 410.2h3.7v3.7h-3.7zM974.6 462.0h3.7v3.7h-3.7zM1056.0 373.2h3.7v3.7h-3.7zM959.8 291.8h3.7v3.7h-3.7zM1033.8 291.8h3.7v3.7h-3.7zM989.4 173.4h3.7v3.7h-3.7zM945.0 402.8h3.7v3.7h-3.7zM1019.0 299.2h3.7v3.7h-3.7zM1137.4 358.4h3.7v18.5h-3.7zM945.0 410.2h3.7v3.7h-3.7zM1019.0 380.6h3.7v3.7h-3.7zM922.8 447.2h3.7v3.7h-3.7zM930.2 284.4h3.7v3.7h-3.7zM1078.2 354.7h3.7v3.7h-3.7zM978.3 258.5h3.7v3.7h-3.7zM915.4 232.6h3.7v3.7h-3.7zM1004.2 336.2h3.7v3.7h-3.7zM996.8 328.8h3.7v3.7h-3.7zM1041.2 373.2h3.7v11.1h-3.7zM1130.0 314.0h3.7v3.7h-3.7zM1093.0 195.6h3.7v3.7h-3.7zM1011.6 277.0h3.7v3.7h-3.7zM1070.8 277.0h3.7v3.7h-3.7zM1026.4 314.0h3.7v3.7h-3.7zM900.6 454.6h3.7v3.7h-3.7zM945.0 358.4h3.7v18.5h-3.7zM900.6 417.6h3.7v3.7h-3.7zM1100.4 402.8h3.7v3.7h-3.7zM1063.4 410.2h11.1v3.7h-11.1zM1063.4 417.6h3.7v3.7h-3.7zM911.7 243.7h3.7v3.7h-3.7zM1041.2 388.0h3.7v3.7h-3.7zM996.8 321.4h3.7v7.4h-3.7zM1041.2 306.6h3.7v3.7h-3.7zM1056.0 210.4h3.7v3.7h-3.7zM959.8 395.4h3.7v3.7h-3.7zM974.6 454.6h3.7v3.7h-3.7zM1041.2 343.6h3.7v14.8h-3.7zM941.3 291.8h3.7v3.7h-3.7zM900.6 402.8h3.7v3.7h-3.7zM878.4 454.6h3.7v11.1h-3.7zM1011.6 258.5h3.7v3.7h-3.7zM1044.9 473.1h11.1v3.7h-11.1zM1078.2 262.2h3.7v3.7h-3.7zM937.6 314.0h3.7v3.7h-3.7zM982.0 476.8h3.7v3.7h-3.7zM1004.2 195.6h3.7v3.7h-3.7zM885.8 217.8h3.7v25.9h-3.7zM915.4 484.2h14.8v3.7h-14.8zM959.8 343.6h3.7v3.7h-3.7zM1011.6 180.8h3.7v3.7h-3.7zM1070.8 291.8h11.1v3.7h-11.1zM919.1 432.4h3.7v3.7h-3.7zM1078.2 358.4h3.7v3.7h-3.7zM1141.1 373.2h3.7v3.7h-3.7zM1122.6 410.2h3.7v3.7h-3.7zM863.6 328.8h3.7v18.5h-3.7zM1118.9 421.3h3.7v3.7h-3.7zM900.6 306.6h3.7v3.7h-3.7zM989.4 254.8h3.7v3.7h-3.7zM959.8 447.2h3.7v3.7h-3.7zM1004.2 314.0h3.7v3.7h-3.7zM922.8 247.4h3.7v3.7h-3.7zM1107.8 417.6h3.7v3.7h-3.7zM974.6 217.8h3.7v3.7h-3.7zM1063.4 306.6h3.7v3.7h-3.7zM900.6 306.6h3.7v11.1h-3.7zM1048.6 365.8h3.7v3.7h-3.7zM1048.6 217.8h3.7v3.7h-3.7zM967.2 277.0h3.7v3.7h-3.7zM900.6 365.8h3.7v3.7h-3.7zM1070.8 254.8h3.7v3.7h-3.7zM1026.4 195.6h3.7v3.7h-3.7zM1056.0 195.6h3.7v3.7h-3.7zM1089.3 247.4h3.7v3.7h-3.7zM1130.0 269.6h3.7v3.7h-3.7zM959.8 306.6h3.7v3.7h-3.7zM989.4 425.0h3.7v3.7h-3.7zM982.0 188.2h3.7v3.7h-3.7zM945.0 306.6h3.7v3.7h-3.7zM863.6 373.2h3.7v3.7h-3.7zM1026.4 321.4h3.7v3.7h-3.7zM1026.4 247.4h3.7v3.7h-3.7zM878.4 447.2h3.7v3.7h-3.7zM1004.2 277.0h3.7v3.7h-3.7zM1033.8 462.0h3.7v3.7h-3.7zM1048.6 395.4h14.8v3.7h-14.8zM1019.0 203.0h3.7v3.7h-3.7zM937.6 402.8h3.7v3.7h-3.7zM1067.1 288.1h3.7v3.7h-3.7zM893.2 262.2h3.7v3.7h-3.7zM967.2 443.5h3.7v3.7h-3.7zM1093.0 299.2h3.7v3.7h-3.7zM945.0 410.2h3.7v3.7h-3.7zM996.8 284.4h3.7v3.7h-3.7zM963.5 221.5h3.7v3.7h-3.7zM900.6 417.6h3.7v3.7h-3.7zM1115.2 447.2h3.7v3.7h-3.7zM930.2 417.6h3.7v3.7h-3.7zM1130.0 299.2h3.7v3.7h-3.7zM1137.4 314.0h11.1v3.7h-11.1zM948.7 362.1h3.7v3.7h-3.7zM922.8 402.8h3.7v3.7h-3.7zM900.6 428.7h3.7v3.7h-3.7zM863.6 362.1h3.7v3.7h-3.7zM915.4 454.6h3.7v3.7h-3.7zM889.5 299.2h3.7v3.7h-3.7zM1048.6 321.4h3.7v3.7h-3.7zM1033.8 180.8h3.7v3.7h-3.7zM1070.8 454.6h3.7v3.7h-3.7zM982.0 358.4h3.7v3.7h-3.7zM959.8 284.4h3.7v11.1h-3.7zM1130.0 343.6h3.7v3.7h-3.7zM922.8 180.8h3.7v3.7h-3.7zM945.0 195.6h3.7v3.7h-3.7zM1063.4 314.0h3.7v3.7h-3.7zM1130.0 262.2h3.7v3.7h-3.7zM1019.0 217.8h3.7v3.7h-3.7zM967.2 410.2h3.7v3.7h-3.7zM945.0 462.0h3.7v3.7h-3.7zM1004.2 314.0h3.7v3.7h-3.7zM945.0 328.8h3.7v3.7h-3.7zM863.6 365.8h3.7v11.1h-3.7zM922.8 402.8h3.7v3.7h-3.7zM1056.0 373.2h3.7v3.7h-3.7zM900.6 284.4h3.7v3.7h-3.7zM952.4 225.2h3.7v3.7h-3.7zM1093.0 373.2h3.7v3.7h-3.7zM1011.6 339.9h3.7v3.7h-3.7zM893.2 432.4h3.7v3.7h-3.7zM900.6 306.6h3.7v3.7h-3.7zM1070.8 203.0h3.7v3.7h-3.7zM1011.6 462.0h3.7v3.7h-3.7zM1011.6 351.0h3.7v3.7h-3.7zM1093.0 214.1h7.4v3.7h-7.4zM878.4 417.6h11.1v3.7h-11.1zM1063.4 240.0h3.7v3.7h-3.7zM1093.0 247.4h3.7v3.7h-3.7zM1019.0 203.0h3.7v3.7h-3.7zM908.0 291.8h3.7v3.7h-3.7zM974.6 328.8h3.7v3.7h-3.7zM900.6 262.2h3.7v3.7h-3.7zM1078.2 469.4h3.7v3.7h-3.7zM996.8 277.0h3.7v3.7h-3.7zM871.0 336.2h3.7v3.7h-3.7zM1126.3 443.5h3.7v3.7h-3.7zM1033.8 343.6h3.7v3.7h-3.7zM959.8 402.8h3.7v3.7h-3.7zM915.4 380.6h3.7v3.7h-3.7zM959.8 417.6h3.7v3.7h-3.7zM1107.8 314.0h3.7v3.7h-3.7zM1063.4 436.1h3.7v11.1h-3.7zM967.2 166.0h7.4v3.7h-7.4zM878.4 491.6h3.7v3.7h-3.7zM1059.7 199.3h3.7v3.7h-3.7zM974.6 254.8h3.7v3.7h-3.7zM1085.6 262.2h3.7v14.8h-3.7zM1115.2 425.0h3.7v3.7h-3.7zM1019.0 180.8h3.7v11.1h-3.7zM871.0 328.8h3.7v3.7h-3.7zM1026.4 358.4h14.8v3.7h-14.8zM1011.6 354.7h3.7v14.8h-3.7zM952.4 373.2h3.7v3.7h-3.7zM1033.8 240.0h3.7v3.7h-3.7zM945.0 432.4h3.7v3.7h-3.7zM959.8 336.2h3.7v3.7h-3.7zM982.0 373.2h3.7v3.7h-3.7zM937.6 402.8h3.7v3.7h-3.7zM1093.0 351.0h3.7v3.7h-3.7zM1019.0 417.6h3.7v3.7h-3.7zM1100.4 484.2h3.7v3.7h-3.7zM1115.2 284.4h3.7v3.7h-3.7zM952.4 343.6h3.7v18.5h-3.7zM1118.9 402.8h3.7v3.7h-3.7zM1011.6 425.0h3.7v3.7h-3.7zM967.2 321.4h3.7v3.7h-3.7zM1115.2 314.0h3.7v3.7h-3.7zM1115.2 462.0h3.7v3.7h-3.7zM1070.8 343.6h11.1v3.7h-11.1zM982.0 232.6h3.7v3.7h-3.7zM878.4 469.4h3.7v3.7h-3.7zM900.6 262.2h3.7v25.9h-3.7zM893.2 469.4h3.7v3.7h-3.7zM1070.8 328.8h3.7v3.7h-3.7zM985.7 417.6h3.7v3.7h-3.7zM1041.2 436.1h3.7v3.7h-3.7zM915.4 395.4h3.7v3.7h-3.7zM974.6 454.6h3.7v3.7h-3.7zM1122.6 336.2h3.7v3.7h-3.7zM1070.8 291.8h3.7v3.7h-3.7zM908.0 432.4h3.7v3.7h-3.7zM1070.8 465.7h3.7v3.7h-3.7zM1041.2 336.2h3.7v3.7h-3.7zM1107.8 343.6h3.7v3.7h-3.7zM885.8 247.4h3.7v3.7h-3.7zM930.2 217.8h3.7v3.7h-3.7zM915.4 343.6h3.7v3.7h-3.7zM959.8 476.8h3.7v3.7h-3.7zM922.8 195.6h3.7v3.7h-3.7zM1089.3 217.8h3.7v3.7h-3.7zM878.4 395.4h3.7v3.7h-3.7zM922.8 491.6h3.7v3.7h-3.7zM1041.2 365.8h3.7v3.7h-3.7zM989.4 321.4h3.7v3.7h-3.7zM1063.4 291.8h3.7v3.7h-3.7zM982.0 314.0h3.7v25.9h-3.7zM922.8 343.6h3.7v3.7h-3.7zM893.2 328.8h11.1v3.7h-11.1zM1007.9 428.7h3.7v3.7h-3.7zM982.0 476.8h3.7v3.7h-3.7zM959.8 425.0h3.7v3.7h-3.7zM1019.0 402.8h3.7v3.7h-3.7zM893.2 240.0h3.7v3.7h-3.7zM996.8 221.5h3.7v3.7h-3.7zM985.7 369.5h3.7v3.7h-3.7zM1067.1 428.7h3.7v3.7h-3.7zM1033.8 395.4h3.7v3.7h-3.7zM1041.2 210.4h3.7v3.7h-3.7zM1122.6 299.2h3.7v3.7h-3.7zM1033.8 402.8h3.7v3.7h-3.7zM967.2 195.6h3.7v3.7h-3.7zM1107.8 358.4h3.7v3.7h-3.7zM1107.8 476.8h3.7v3.7h-3.7zM1048.6 232.6h3.7v3.7h-3.7zM1067.1 177.1h3.7v3.7h-3.7zM863.6 450.9h3.7v3.7h-3.7zM919.1 343.6h3.7v3.7h-3.7zM1085.6 247.4h3.7v3.7h-3.7zM937.6 217.8h3.7v11.1h-3.7zM922.8 314.0h3.7v3.7h-3.7zM1041.2 432.4h3.7v3.7h-3.7zM996.8 365.8h3.7v11.1h-3.7zM974.6 232.6h3.7v11.1h-3.7zM1104.1 484.2h3.7v3.7h-3.7zM1074.5 299.2h3.7v3.7h-3.7zM967.2 473.1h3.7v3.7h-3.7zM1004.2 388.0h3.7v3.7h-3.7zM922.8 365.8h3.7v3.7h-3.7zM937.6 380.6h3.7v3.7h-3.7zM930.2 373.2h3.7v3.7h-3.7zM967.2 402.8h3.7v3.7h-3.7zM1078.2 277.0h3.7v3.7h-3.7zM996.8 343.6h3.7v3.7h-3.7zM967.2 351.0h3.7v25.9h-3.7zM974.6 217.8h3.7v3.7h-3.7zM1026.4 454.6h3.7v3.7h-3.7zM982.0 247.4h3.7v11.1h-3.7zM1015.3 262.2h3.7v3.7h-3.7zM1063.4 447.2h3.7v3.7h-3.7zM996.8 402.8h3.7v3.7h-3.7zM1044.9 373.2h3.7v3.7h-3.7zM945.0 254.8h3.7v3.7h-3.7zM1019.0 351.0h3.7v3.7h-3.7zM1056.0 321.4h3.7v3.7h-3.7zM1122.6 336.2h3.7v3.7h-3.7zM871.0 484.2h3.7v3.7h-3.7zM1063.4 410.2h3.7v3.7h-3.7zM1037.5 265.9h3.7v7.4h-3.7zM893.2 203.0h3.7v3.7h-3.7zM933.9 254.8h3.7v3.7h-3.7zM930.2 247.4h3.7v3.7h-3.7zM1100.4 399.1h3.7v3.7h-3.7zM952.4 254.8h7.4v3.7h-7.4zM1004.2 225.2h3.7v3.7h-3.7zM893.2 291.8h3.7v3.7h-3.7zM952.4 476.8h3.7v3.7h-3.7zM878.4 447.2h3.7v3.7h-3.7zM930.2 173.4h3.7v3.7h-3.7zM996.8 439.8h3.7v3.7h-3.7zM1115.2 254.8h3.7v3.7h-3.7zM963.5 177.1h3.7v3.7h-3.7zM1115.2 225.2h3.7v3.7h-3.7zM1063.4 462.0h3.7v3.7h-3.7zM1011.6 299.2h3.7v3.7h-3.7zM882.1 354.7h3.7v3.7h-3.7zM1026.4 210.4h3.7v3.7h-3.7z" fill="#000"/>
<path d="M860.0 101V148.7H874.8V145.0H882.2V145.0H897.0V148.7H911.8V145.0H919.2V148.7H930.3V152.4H934.0V148.7H945.1V152.4H959.9V152.4H963.6V148.7H978.4V145.0H985.8V148.7H996.9V152.4H1000.6V156.1H1011.7V148.7H1019.1V148.7H1033.9V148.7H1041.3V148.7H1056.1V145.0H1063.5V148.7H1078.3V148.7H1082.0V152.4H1089.4V145.0H1096.8V156.1H1100.5V159.8H1104.2V159.8H1115.3V159.8H1126.4V156.1H1130.1V156.1H1137.5V152.4H1144.9V148.7H1145.6V101Z" fill="#000"/>
<path d="M860.0 551V509.3H867.4V513.0H878.5V509.3H882.2V501.9H889.6V509.3H904.4V501.9H919.2V513.0H926.6V501.9H934.0V505.6H945.1V501.9H948.8V505.6H956.2V505.6H963.6V505.6H967.3V505.6H971.0V501.9H982.1V505.6H993.2V505.6H996.9V501.9H1008.0V501.9H1019.1V501.9H1030.2V501.9H1037.6V501.9H1048.7V498.2H1063.5V498.2H1078.3V498.2H1082.0V498.2H1093.1V494.5H1104.2V498.2H1107.9V490.8H1115.3V490.8H1119.0V494.5H1126.4V498.2H1137.5V494.5H1144.9V498.2H1145.6V551Z" fill="#000"/>
<rect x="1145.6" y="130" width="285.4" height="400" fill="url(#s3)"/>
<rect x="1145.6" y="215" width="285.4" height="235" fill="url(#s3r)"/>
<rect x="1145.6" y="130" width="285.4" height="400" fill="url(#n3)" mask="url(#m3)"/>
<path d="M1228.6 220.4h3.7v3.7h-3.7zM1406.2 294.4h3.7v3.7h-3.7zM1199.0 446.1h11.1v3.7h-11.1zM1154.6 250.0h3.7v3.7h-3.7zM1213.8 242.6h3.7v3.7h-3.7zM1191.6 324.0h3.7v3.7h-3.7zM1413.6 368.4h3.7v3.7h-3.7zM1176.8 353.6h3.7v3.7h-3.7zM1347.0 472.0h3.7v3.7h-3.7zM1287.8 283.3h3.7v3.7h-3.7zM1421.0 427.6h3.7v3.7h-3.7zM1369.2 183.4h3.7v3.7h-3.7zM1265.6 198.2h3.7v3.7h-3.7zM1302.6 442.4h3.7v3.7h-3.7zM1221.2 346.2h3.7v3.7h-3.7zM1354.4 316.6h3.7v3.7h-3.7zM1162.0 190.8h3.7v25.9h-3.7zM1413.6 287.0h3.7v3.7h-3.7zM1243.4 264.8h3.7v3.7h-3.7zM1221.2 464.6h3.7v3.7h-3.7zM1406.2 213.0h3.7v3.7h-3.7zM1228.6 405.4h3.7v3.7h-3.7zM1310.0 279.6h3.7v14.8h-3.7zM1184.2 294.4h3.7v3.7h-3.7zM1280.4 287.0h3.7v3.7h-3.7zM1265.6 361.0h3.7v3.7h-3.7zM1273.0 227.8h3.7v3.7h-3.7zM1317.4 309.2h3.7v3.7h-3.7zM1280.4 453.5h3.7v25.9h-3.7zM1391.4 324.0h3.7v3.7h-3.7zM1406.2 390.6h3.7v3.7h-3.7zM1184.2 398.0h3.7v3.7h-3.7zM1376.6 183.4h3.7v3.7h-3.7zM1376.6 301.8h3.7v3.7h-3.7zM1413.6 331.4h3.7v3.7h-3.7zM1354.4 235.2h3.7v3.7h-3.7zM1310.0 301.8h3.7v3.7h-3.7zM1369.2 412.8h3.7v3.7h-3.7zM1195.3 394.3h3.7v3.7h-3.7zM1310.0 368.4h3.7v3.7h-3.7zM1176.8 198.2h3.7v3.7h-3.7zM1273.0 190.8h3.7v3.7h-3.7zM1176.8 242.6h3.7v3.7h-3.7zM1302.6 405.4h3.7v3.7h-3.7zM1310.0 294.4h3.7v3.7h-3.7zM1354.4 390.6h3.7v3.7h-3.7zM1317.4 375.8h3.7v3.7h-3.7zM1409.9 201.9h3.7v3.7h-3.7zM1236.0 242.6h3.7v3.7h-3.7zM1287.8 176.0h3.7v3.7h-3.7zM1232.3 368.4h3.7v3.7h-3.7zM1339.6 457.2h3.7v3.7h-3.7zM1339.6 420.2h3.7v3.7h-3.7zM1376.6 235.2h3.7v3.7h-3.7zM1191.6 479.4h3.7v3.7h-3.7zM1376.6 242.6h3.7v3.7h-3.7zM1361.8 405.4h11.1v3.7h-11.1zM1258.2 361.0h3.7v3.7h-3.7zM1317.4 383.2h3.7v3.7h-3.7zM1199.0 346.2h3.7v3.7h-3.7zM1147.2 205.6h3.7v3.7h-3.7zM1332.2 316.6h3.7v3.7h-3.7zM1169.4 383.2h3.7v3.7h-3.7zM1154.6 375.8h3.7v3.7h-3.7zM1310.0 457.2h3.7v3.7h-3.7zM1343.3 301.8h3.7v3.7h-3.7zM1191.6 242.6h3.7v3.7h-3.7zM1258.2 242.6h3.7v3.7h-3.7zM1347.0 435.0h3.7v3.7h-3.7zM1339.6 472.0h7.4v3.7h-7.4zM1369.2 457.2h3.7v3.7h-3.7zM1147.2 327.7h3.7v3.7h-3.7zM1361.8 390.6h3.7v3.7h-3.7zM1199.0 342.5h3.7v3.7h-3.7zM1184.2 390.6h3.7v3.7h-3.7zM1421.0 361.0h3.7v3.7h-3.7zM1398.8 301.8h3.7v3.7h-3.7zM1295.2 457.2h3.7v3.7h-3.7zM1324.8 331.4h3.7v3.7h-3.7zM1310.0 338.8h3.7v3.7h-3.7zM1369.2 287.0h3.7v3.7h-3.7zM1265.6 457.2h3.7v3.7h-3.7zM1347.0 472.0h3.7v3.7h-3.7zM1391.4 312.9h3.7v3.7h-3.7zM1339.6 353.6h3.7v3.7h-3.7zM1169.4 375.8h3.7v3.7h-3.7zM1295.2 231.5h3.7v3.7h-3.7zM1339.6 316.6h3.7v3.7h-3.7zM1302.6 324.0h3.7v3.7h-3.7zM1421.0 235.2h3.7v3.7h-3.7zM1413.6 213.0h3.7v3.7h-3.7zM1236.0 390.6h3.7v3.7h-3.7zM1413.6 287.0h3.7v3.7h-3.7zM1199.0 250.0h3.7v14.8h-3.7zM1154.6 316.6h3.7v3.7h-3.7zM1236.0 338.8h3.7v11.1h-3.7zM1287.8 368.4h3.7v3.7h-3.7zM1384.0 390.6h3.7v3.7h-3.7zM1250.8 242.6h3.7v3.7h-3.7zM1250.8 398.0h3.7v3.7h-3.7zM1258.2 227.8h3.7v3.7h-3.7zM1276.7 357.3h3.7v3.7h-3.7zM1176.8 342.5h3.7v3.7h-3.7zM1258.2 442.4h3.7v3.7h-3.7zM1369.2 194.5h3.7v3.7h-3.7zM1384.0 353.6h3.7v3.7h-3.7zM1317.4 435.0h3.7v3.7h-3.7zM1406.2 227.8h3.7v3.7h-3.7zM1176.8 420.2h3.7v3.7h-3.7zM1250.8 264.8h3.7v3.7h-3.7zM1243.4 435.0h3.7v3.7h-3.7zM1180.5 398.0h3.7v3.7h-3.7zM1295.2 287.0h3.7v3.7h-3.7zM1406.2 257.4h3.7v3.7h-3.7zM1387.7 190.8h3.7v3.7h-3.7zM1413.6 383.2h3.7v3.7h-3.7zM1354.4 368.4h3.7v3.7h-3.7zM1191.6 246.3h3.7v3.7h-3.7zM1265.6 449.8h3.7v3.7h-3.7zM1184.2 279.6h3.7v3.7h-3.7zM1310.0 205.6h3.7v3.7h-3.7zM1324.8 264.8h3.7v3.7h-3.7zM1176.8 368.4h3.7v3.7h-3.7zM1258.2 272.2h3.7v3.7h-3.7zM1402.5 242.6h3.7v3.7h-3.7zM1384.0 227.8h3.7v3.7h-3.7zM1295.2 412.8h3.7v3.7h-3.7zM1243.4 272.2h3.7v3.7h-3.7zM1265.6 324.0h3.7v3.7h-3.7zM1250.8 338.8h3.7v3.7h-3.7zM1335.9 420.2h3.7v3.7h-3.7zM1250.8 257.4h3.7v3.7h-3.7zM1254.5 361.0h3.7v3.7h-3.7zM1421.0 353.6h3.7v3.7h-3.7zM1324.8 176.0h3.7v3.7h-3.7zM1284.1 275.9h3.7v3.7h-3.7zM1391.4 390.6h3.7v3.7h-3.7zM1398.8 242.6h3.7v7.4h-3.7zM1206.4 383.2h3.7v3.7h-3.7zM1347.0 316.6h3.7v3.7h-3.7zM1221.2 227.8h3.7v3.7h-3.7zM1228.6 331.4h3.7v3.7h-3.7zM1162.0 305.5h3.7v3.7h-3.7zM1243.4 324.0h3.7v3.7h-3.7zM1199.0 472.0h3.7v3.7h-3.7zM1154.6 205.6h3.7v3.7h-3.7zM1169.4 205.6h3.7v3.7h-3.7zM1213.8 449.8h3.7v3.7h-3.7zM1221.2 386.9h3.7v3.7h-3.7zM1191.6 205.6h3.7v3.7h-3.7zM1339.6 464.6h11.1v3.7h-11.1zM1310.0 183.4h3.7v11.1h-3.7zM1280.4 220.4h3.7v3.7h-3.7zM1206.4 412.8h3.7v3.7h-3.7zM1217.5 453.5h3.7v3.7h-3.7zM1295.2 294.4h3.7v3.7h-3.7zM1354.4 464.6h3.7v3.7h-3.7zM1376.6 250.0h3.7v3.7h-3.7zM1354.4 242.6h3.7v3.7h-3.7zM1284.1 224.1h3.7v3.7h-3.7zM1147.2 250.0h3.7v3.7h-3.7zM1199.0 235.2h3.7v3.7h-3.7zM1361.8 264.8h3.7v3.7h-3.7zM1221.2 375.8h3.7v3.7h-3.7zM1384.0 213.0h3.7v3.7h-3.7zM1162.0 338.8h3.7v3.7h-3.7zM1413.6 287.0h3.7v3.7h-3.7zM1210.1 294.4h3.7v3.7h-3.7zM1347.0 420.2h3.7v3.7h-3.7zM1243.4 472.0h3.7v3.7h-3.7zM1406.2 213.0h3.7v3.7h-3.7zM1273.0 176.0h3.7v3.7h-3.7zM1387.7 342.5h3.7v3.7h-3.7zM1243.4 235.2h3.7v3.7h-3.7zM1347.0 472.0h11.1v3.7h-11.1zM1384.0 442.4h3.7v3.7h-3.7zM1354.4 446.1h3.7v3.7h-3.7zM1324.8 346.2h3.7v3.7h-3.7zM1413.6 250.0h3.7v3.7h-3.7zM1313.7 264.8h3.7v3.7h-3.7zM1273.0 449.8h3.7v3.7h-3.7zM1295.2 361.0h3.7v3.7h-3.7zM1247.1 261.1h3.7v3.7h-3.7zM1332.2 375.8h3.7v3.7h-3.7zM1154.6 361.0h3.7v3.7h-3.7zM1176.8 294.4h3.7v14.8h-3.7zM1317.4 250.0h3.7v3.7h-3.7zM1384.0 472.0h3.7v3.7h-3.7zM1347.0 187.1h14.8v3.7h-14.8zM1213.8 287.0h3.7v3.7h-3.7zM1376.6 435.0h3.7v3.7h-3.7zM1295.2 405.4h3.7v3.7h-3.7zM1206.4 198.2h3.7v3.7h-3.7zM1295.2 183.4h3.7v3.7h-3.7zM1391.4 442.4h3.7v18.5h-3.7zM1317.4 449.8h3.7v3.7h-3.7zM1169.4 201.9h3.7v3.7h-3.7zM1228.6 176.0h3.7v3.7h-3.7zM1273.0 176.0h3.7v3.7h-3.7zM1243.4 279.6h3.7v3.7h-3.7zM1361.8 353.6h3.7v3.7h-3.7zM1387.7 264.8h3.7v3.7h-3.7zM1258.2 198.2h3.7v3.7h-3.7zM1421.0 272.2h3.7v3.7h-3.7zM1424.7 346.2h3.7v3.7h-3.7zM1310.0 309.2h3.7v3.7h-3.7zM1384.0 198.2h3.7v3.7h-3.7zM1421.0 449.8h3.7v3.7h-3.7zM1328.5 320.3h3.7v3.7h-3.7zM1228.6 301.8h3.7v3.7h-3.7zM1339.6 183.4h3.7v3.7h-3.7zM1147.2 209.3h3.7v3.7h-3.7zM1250.8 375.8h3.7v3.7h-3.7zM1199.0 220.4h3.7v14.8h-3.7zM1258.2 176.0h3.7v3.7h-3.7zM1361.8 250.0h3.7v3.7h-3.7zM1176.8 442.4h3.7v3.7h-3.7zM1228.6 294.4h3.7v3.7h-3.7zM1154.6 220.4h3.7v3.7h-3.7zM1302.6 235.2h3.7v3.7h-3.7zM1332.2 390.6h3.7v3.7h-3.7zM1302.6 457.2h3.7v3.7h-3.7zM1232.3 287.0h3.7v3.7h-3.7zM1228.6 331.4h3.7v3.7h-3.7zM1361.8 309.2h3.7v3.7h-3.7zM1376.6 375.8h11.1v3.7h-11.1zM1210.1 176.0h3.7v3.7h-3.7zM1347.0 324.0h3.7v3.7h-3.7zM1302.6 442.4h3.7v11.1h-3.7zM1306.3 364.7h3.7v3.7h-3.7zM1280.4 279.6h3.7v3.7h-3.7zM1317.4 324.0h3.7v3.7h-3.7zM1354.4 405.4h3.7v3.7h-3.7zM1176.8 420.2h3.7v3.7h-3.7zM1169.4 316.6h3.7v3.7h-3.7zM1199.0 220.4h3.7v3.7h-3.7zM1247.1 190.8h3.7v3.7h-3.7zM1184.2 227.8h3.7v3.7h-3.7zM1247.1 357.3h3.7v3.7h-3.7zM1221.2 412.8h3.7v3.7h-3.7zM1310.0 242.6h3.7v3.7h-3.7zM1287.8 464.6h3.7v3.7h-3.7zM1228.6 405.4h3.7v3.7h-3.7zM1339.6 346.2h3.7v3.7h-3.7zM1310.0 272.2h3.7v3.7h-3.7zM1243.4 190.8h3.7v3.7h-3.7zM1347.0 264.8h3.7v3.7h-3.7zM1169.4 442.4h3.7v3.7h-3.7zM1261.9 364.7h3.7v3.7h-3.7zM1361.8 250.0h3.7v3.7h-3.7zM1369.2 316.6h11.1v3.7h-11.1zM1184.2 368.4h3.7v3.7h-3.7zM1317.4 309.2h3.7v3.7h-3.7zM1302.6 449.8h3.7v3.7h-3.7zM1384.0 294.4h3.7v3.7h-3.7zM1361.8 198.2h3.7v3.7h-3.7zM1176.8 264.8h3.7v3.7h-3.7zM1402.5 386.9h3.7v3.7h-3.7zM1295.2 442.4h3.7v3.7h-3.7zM1169.4 190.8h3.7v3.7h-3.7zM1265.6 242.6h3.7v3.7h-3.7zM1184.2 383.2h3.7v3.7h-3.7zM1332.2 309.2h3.7v3.7h-3.7zM1324.8 420.2h3.7v3.7h-3.7zM1339.6 390.6h3.7v3.7h-3.7zM1147.2 368.4h3.7v3.7h-3.7zM1162.0 220.4h3.7v3.7h-3.7zM1406.2 190.8h3.7v3.7h-3.7zM1391.4 183.4h3.7v3.7h-3.7zM1258.2 464.6h3.7v3.7h-3.7zM1287.8 457.2h3.7v3.7h-3.7zM1162.0 294.4h3.7v3.7h-3.7zM1265.6 324.0h3.7v3.7h-3.7zM1280.4 190.8h3.7v3.7h-3.7zM1154.6 220.4h3.7v3.7h-3.7zM1147.2 242.6h3.7v3.7h-3.7zM1265.6 179.7h3.7v3.7h-3.7zM1176.8 301.8h3.7v3.7h-3.7zM1162.0 457.2h3.7v3.7h-3.7zM1354.4 368.4h14.8v3.7h-14.8zM1413.6 435.0h3.7v3.7h-3.7zM1191.6 375.8h3.7v7.4h-3.7zM1328.5 238.9h3.7v3.7h-3.7zM1398.8 198.2h3.7v3.7h-3.7zM1317.4 457.2h3.7v3.7h-3.7zM1339.6 427.6h3.7v3.7h-3.7zM1236.0 205.6h3.7v3.7h-3.7zM1284.1 320.3h3.7v3.7h-3.7zM1243.4 264.8h3.7v3.7h-3.7zM1154.6 420.2h3.7v3.7h-3.7zM1310.0 427.6h3.7v3.7h-3.7zM1154.6 375.8h3.7v3.7h-3.7zM1273.0 412.8h3.7v3.7h-3.7zM1176.8 338.8h3.7v3.7h-3.7zM1384.0 205.6h3.7v3.7h-3.7zM1302.6 257.4h3.7v3.7h-3.7zM1228.6 435.0h3.7v3.7h-3.7zM1258.2 198.2h3.7v3.7h-3.7zM1372.9 331.4h3.7v3.7h-3.7zM1258.2 361.0h3.7v3.7h-3.7zM1269.3 427.6h3.7v3.7h-3.7zM1228.6 205.6h3.7v3.7h-3.7zM1391.4 294.4h3.7v3.7h-3.7zM1191.6 331.4h3.7v3.7h-3.7zM1258.2 427.6h3.7v3.7h-3.7zM1287.8 235.2h3.7v3.7h-3.7zM1354.4 435.0h3.7v3.7h-3.7zM1169.4 287.0h3.7v3.7h-3.7zM1273.0 479.4h3.7v7.4h-3.7zM1228.6 294.4h3.7v3.7h-3.7zM1202.7 275.9h3.7v3.7h-3.7zM1154.6 294.4h3.7v3.7h-3.7zM1324.8 294.4h3.7v3.7h-3.7zM1176.8 272.2h3.7v3.7h-3.7zM1199.0 457.2h3.7v3.7h-3.7zM1265.6 442.4h3.7v3.7h-3.7zM1413.6 238.9h3.7v3.7h-3.7zM1199.0 213.0h3.7v3.7h-3.7zM1324.8 264.8h3.7v3.7h-3.7zM1324.8 412.8h3.7v3.7h-3.7zM1361.8 183.4h3.7v3.7h-3.7zM1191.6 398.0h3.7v3.7h-3.7zM1243.4 176.0h3.7v3.7h-3.7zM1369.2 405.4h3.7v7.4h-3.7zM1243.4 390.6h3.7v3.7h-3.7zM1347.0 272.2h3.7v3.7h-3.7zM1191.6 309.2h3.7v3.7h-3.7zM1317.4 375.8h3.7v3.7h-3.7zM1284.1 412.8h3.7v14.8h-3.7zM1310.0 412.8h3.7v3.7h-3.7zM1310.0 227.8h7.4v3.7h-7.4zM1347.0 176.0h3.7v3.7h-3.7zM1291.5 194.5h3.7v3.7h-3.7zM1406.2 205.6h3.7v3.7h-3.7zM1162.0 309.2h3.7v3.7h-3.7zM1302.6 176.0h3.7v3.7h-3.7zM1191.6 294.4h3.7v3.7h-3.7zM1154.6 457.2h3.7v3.7h-3.7zM1258.2 346.2h3.7v3.7h-3.7zM1421.0 375.8h3.7v3.7h-3.7zM1302.6 405.4h3.7v3.7h-3.7zM1398.8 390.6h3.7v3.7h-3.7zM1332.2 227.8h3.7v3.7h-3.7zM1376.6 412.8h3.7v3.7h-3.7zM1184.2 375.8h3.7v3.7h-3.7zM1206.4 361.0h3.7v3.7h-3.7zM1162.0 427.6h3.7v3.7h-3.7zM1302.6 427.6h3.7v3.7h-3.7zM1395.1 220.4h3.7v3.7h-3.7zM1162.0 464.6h3.7v3.7h-3.7zM1250.8 279.6h3.7v3.7h-3.7zM1347.0 220.4h3.7v3.7h-3.7zM1369.2 220.4h3.7v3.7h-3.7zM1332.2 331.4h3.7v3.7h-3.7zM1361.8 435.0h3.7v3.7h-3.7zM1206.4 361.0h3.7v3.7h-3.7zM1221.2 220.4h3.7v3.7h-3.7zM1376.6 324.0h3.7v3.7h-3.7zM1158.3 457.2h3.7v3.7h-3.7zM1176.8 449.8h3.7v3.7h-3.7zM1221.2 442.4h3.7v3.7h-3.7zM1199.0 353.6h3.7v3.7h-3.7zM1332.2 353.6h3.7v3.7h-3.7zM1236.0 383.2h3.7v3.7h-3.7zM1250.8 412.8h3.7v3.7h-3.7zM1339.6 250.0h3.7v3.7h-3.7zM1176.8 375.8h7.4v3.7h-7.4zM1195.3 431.3h3.7v3.7h-3.7zM1384.0 227.8h3.7v3.7h-3.7zM1365.5 305.5h3.7v3.7h-3.7zM1258.2 405.4h3.7v3.7h-3.7zM1376.6 279.6h3.7v3.7h-3.7zM1250.8 235.2h3.7v3.7h-3.7zM1265.6 287.0h3.7v3.7h-3.7zM1258.2 205.6h3.7v3.7h-3.7zM1213.8 375.8h3.7v3.7h-3.7zM1280.4 324.0h3.7v3.7h-3.7zM1169.4 368.4h3.7v3.7h-3.7zM1228.6 412.8h3.7v18.5h-3.7zM1343.3 446.1h3.7v3.7h-3.7zM1236.0 383.2h3.7v3.7h-3.7zM1280.4 390.6h3.7v3.7h-3.7zM1384.0 294.4h3.7v3.7h-3.7zM1406.2 183.4h3.7v3.7h-3.7zM1187.9 238.9h3.7v3.7h-3.7zM1154.6 346.2h3.7v3.7h-3.7zM1154.6 457.2h3.7v3.7h-3.7zM1295.2 198.2h3.7v3.7h-3.7zM1147.2 472.0h3.7v3.7h-3.7zM1184.2 198.2h3.7v3.7h-3.7zM1184.2 320.3h3.7v3.7h-3.7zM1228.6 368.4h3.7v3.7h-3.7zM1265.6 205.6h3.7v3.7h-3.7zM1236.0 198.2h3.7v3.7h-3.7zM1347.0 375.8h3.7v3.7h-3.7zM1250.8 257.4h3.7v3.7h-3.7zM1213.8 383.2h3.7v3.7h-3.7zM1387.7 183.4h3.7v3.7h-3.7zM1398.8 272.2h3.7v3.7h-3.7zM1391.4 183.4h3.7v3.7h-3.7zM1354.4 312.9h3.7v14.8h-3.7zM1191.6 442.4h3.7v3.7h-3.7zM1310.0 324.0h3.7v3.7h-3.7zM1421.0 420.2h3.7v3.7h-3.7zM1199.0 279.6h3.7v25.9h-3.7zM1217.5 320.3h3.7v3.7h-3.7zM1391.4 301.8h3.7v3.7h-3.7zM1228.6 183.4h3.7v3.7h-3.7zM1154.6 390.6h3.7v3.7h-3.7zM1273.0 272.2h3.7v3.7h-3.7zM1413.6 213.0h3.7v3.7h-3.7zM1232.3 412.8h3.7v3.7h-3.7zM1302.6 279.6h3.7v3.7h-3.7zM1280.4 353.6h3.7v3.7h-3.7zM1376.6 464.6h3.7v3.7h-3.7zM1361.8 213.0h3.7v3.7h-3.7zM1162.0 220.4h3.7v3.7h-3.7zM1413.6 205.6h3.7v3.7h-3.7zM1147.2 375.8h3.7v11.1h-3.7zM1421.0 346.2h3.7v3.7h-3.7zM1384.0 227.8h3.7v3.7h-3.7zM1402.5 412.8h3.7v3.7h-3.7zM1287.8 331.4h7.4v3.7h-7.4zM1421.0 176.0h11.1v3.7h-11.1zM1258.2 331.4h3.7v3.7h-3.7zM1273.0 472.0h3.7v3.7h-3.7zM1180.5 279.6h3.7v3.7h-3.7zM1195.3 257.4h3.7v3.7h-3.7zM1361.8 316.6h14.8v3.7h-14.8zM1302.6 427.6h3.7v3.7h-3.7zM1421.0 368.4h3.7v3.7h-3.7zM1162.0 346.2h3.7v3.7h-3.7zM1406.2 449.8h3.7v3.7h-3.7zM1332.2 324.0h3.7v3.7h-3.7zM1413.6 227.8h3.7v3.7h-3.7zM1413.6 368.4h3.7v3.7h-3.7zM1361.8 464.6h3.7v3.7h-3.7zM1324.8 272.2h3.7v3.7h-3.7zM1354.4 235.2h3.7v3.7h-3.7zM1191.6 264.8h11.1v3.7h-11.1z" fill="#000"/>
<path d="M1145.6 101V156.3H1149.3V160.0H1156.7V163.7H1164.1V160.0H1171.5V160.0H1178.9V163.7H1190.0V156.3H1201.1V160.0H1204.8V152.6H1219.6V152.6H1227.0V160.0H1230.7V160.0H1245.5V163.7H1260.3V160.0H1271.4V163.7H1282.5V160.0H1297.3V163.7H1312.1V167.4H1326.9V156.3H1330.6V156.3H1334.3V152.6H1341.7V163.7H1352.8V167.4H1356.5V156.3H1360.2V156.3H1371.3V163.7H1382.4V163.7H1386.1V156.3H1400.9V152.6H1408.3V167.4H1419.4V160.0H1426.8V156.3H1431.0V101Z" fill="#000"/>
<path d="M1145.6 551V510.7H1156.7V510.7H1171.5V510.7H1178.9V510.7H1182.6V510.7H1193.7V510.7H1197.4V507.0H1201.1V507.0H1215.9V503.3H1223.3V507.0H1234.4V507.0H1241.8V507.0H1249.2V503.3H1256.6V507.0H1264.0V495.9H1271.4V503.3H1286.2V507.0H1293.6V507.0H1297.3V507.0H1308.4V510.7H1312.1V507.0H1319.5V507.0H1326.9V507.0H1338.0V510.7H1345.4V507.0H1356.5V507.0H1371.3V507.0H1378.7V507.0H1386.1V507.0H1389.8V510.7H1400.9V510.7H1412.0V495.9H1419.4V507.0H1430.5V495.9H1431.0V551Z" fill="#000"/>
<rect x="1431" y="130" width="282" height="400" fill="url(#s4)"/>
<rect x="1431" y="130" width="282" height="400" fill="url(#n4)" mask="url(#m4)"/>
<rect x="1431" y="130" width="282" height="400" fill="url(#n4t)" mask="url(#m4t)"/>
<rect x="1431" y="205" width="282" height="260" fill="url(#s4r)"/>
<path d="M1543.4 423.6h3.7v3.7h-3.7zM1610.0 468.0h3.7v14.8h-3.7zM1647.0 312.6h3.7v3.7h-3.7zM1484.2 453.2h3.7v3.7h-3.7zM1610.0 290.4h3.7v3.7h-3.7zM1506.4 394.0h3.7v3.7h-3.7zM1536.0 260.8h3.7v3.7h-3.7zM1639.6 349.6h3.7v3.7h-3.7zM1617.4 209.0h3.7v3.7h-3.7zM1661.8 283.0h3.7v3.7h-3.7zM1632.2 268.2h3.7v3.7h-3.7zM1584.1 405.1h3.7v3.7h-3.7zM1587.8 312.6h7.4v3.7h-7.4zM1502.7 434.7h3.7v18.5h-3.7zM1558.2 275.6h3.7v3.7h-3.7zM1543.4 475.4h3.7v3.7h-3.7zM1647.0 327.4h3.7v3.7h-3.7zM1617.4 345.9h3.7v3.7h-3.7zM1491.6 475.4h3.7v3.7h-3.7zM1654.4 423.6h3.7v3.7h-3.7zM1602.6 423.6h3.7v18.5h-3.7zM1669.2 386.6h3.7v3.7h-3.7zM1610.0 349.6h3.7v3.7h-3.7zM1536.0 401.4h3.7v3.7h-3.7zM1624.8 297.8h7.4v3.7h-7.4zM1654.4 475.4h3.7v3.7h-3.7zM1595.2 345.9h3.7v11.1h-3.7zM1506.4 312.6h3.7v3.7h-3.7zM1550.8 231.2h3.7v3.7h-3.7zM1691.4 231.2h3.7v3.7h-3.7zM1602.6 423.6h3.7v3.7h-3.7zM1661.8 216.4h3.7v25.9h-3.7zM1624.8 297.8h3.7v3.7h-3.7zM1450.9 349.6h3.7v3.7h-3.7zM1632.2 186.8h3.7v3.7h-3.7zM1587.8 172.0h3.7v3.7h-3.7zM1680.3 190.5h3.7v3.7h-3.7zM1617.4 283.0h3.7v3.7h-3.7zM1669.2 357.0h3.7v11.1h-3.7zM1706.2 231.2h3.7v3.7h-3.7zM1661.8 360.7h3.7v3.7h-3.7zM1561.9 468.0h3.7v3.7h-3.7zM1698.8 260.8h3.7v3.7h-3.7zM1647.0 342.2h3.7v3.7h-3.7zM1639.6 438.4h14.8v3.7h-14.8zM1676.6 275.6h3.7v3.7h-3.7zM1691.4 442.1h3.7v3.7h-3.7zM1598.9 249.7h3.7v3.7h-3.7zM1669.2 223.8h3.7v3.7h-3.7zM1450.9 279.3h3.7v3.7h-3.7zM1439.8 431.0h3.7v3.7h-3.7zM1691.4 209.0h3.7v3.7h-3.7zM1606.3 279.3h3.7v3.7h-3.7zM1632.2 438.4h3.7v3.7h-3.7zM1676.6 194.2h3.7v3.7h-3.7zM1654.4 268.2h3.7v3.7h-3.7zM1676.6 223.8h3.7v11.1h-3.7zM1610.0 379.2h3.7v3.7h-3.7zM1447.2 401.4h3.7v3.7h-3.7zM1624.8 471.7h3.7v3.7h-3.7zM1624.8 209.0h3.7v3.7h-3.7zM1676.6 334.8h3.7v3.7h-3.7zM1587.8 283.0h3.7v3.7h-3.7zM1698.8 186.8h3.7v3.7h-3.7zM1587.8 172.0h3.7v18.5h-3.7zM1606.3 408.8h3.7v3.7h-3.7zM1573.0 297.8h3.7v3.7h-3.7zM1676.6 249.7h3.7v3.7h-3.7zM1654.4 172.0h3.7v3.7h-3.7zM1676.6 209.0h3.7v3.7h-3.7zM1558.2 253.4h3.7v3.7h-3.7zM1580.4 216.4h3.7v7.4h-3.7zM1669.2 397.7h3.7v3.7h-3.7zM1647.0 201.6h3.7v3.7h-3.7zM1439.8 371.8h3.7v3.7h-3.7zM1580.4 246.0h3.7v3.7h-3.7zM1543.4 357.0h3.7v3.7h-3.7zM1654.4 334.8h3.7v25.9h-3.7zM1439.8 320.0h3.7v3.7h-3.7zM1550.8 186.8h3.7v3.7h-3.7zM1558.2 327.4h3.7v3.7h-3.7zM1558.2 357.0h3.7v11.1h-3.7zM1676.6 186.8h3.7v3.7h-3.7zM1684.0 305.2h3.7v3.7h-3.7zM1639.6 275.6h3.7v3.7h-3.7zM1573.0 364.4h3.7v3.7h-3.7zM1639.6 334.8h11.1v3.7h-11.1zM1565.6 482.8h3.7v3.7h-3.7zM1595.2 475.4h3.7v3.7h-3.7zM1439.8 357.0h3.7v3.7h-3.7zM1698.8 179.4h3.7v3.7h-3.7zM1587.8 223.8h3.7v3.7h-3.7zM1550.8 246.0h3.7v3.7h-3.7zM1669.2 201.6h3.7v3.7h-3.7zM1684.0 179.4h3.7v3.7h-3.7zM1550.8 231.2h3.7v3.7h-3.7zM1624.8 438.4h3.7v3.7h-3.7zM1573.0 223.8h11.1v3.7h-11.1zM1543.4 194.2h3.7v25.9h-3.7zM1587.8 297.8h3.7v3.7h-3.7zM1684.0 394.0h3.7v3.7h-3.7zM1613.7 412.5h3.7v18.5h-3.7zM1684.0 297.8h3.7v3.7h-3.7zM1595.2 349.6h3.7v3.7h-3.7zM1617.4 283.0h3.7v3.7h-3.7zM1706.2 401.4h3.7v3.7h-3.7zM1587.8 186.8h3.7v3.7h-3.7zM1617.4 416.2h3.7v3.7h-3.7zM1676.6 186.8h3.7v3.7h-3.7zM1528.6 209.0h3.7v3.7h-3.7zM1669.2 468.0h3.7v3.7h-3.7zM1447.2 305.2h3.7v3.7h-3.7zM1447.2 183.1h3.7v3.7h-3.7zM1536.0 268.2h3.7v3.7h-3.7zM1602.6 283.0h3.7v3.7h-3.7zM1558.2 453.2h3.7v11.1h-3.7zM1510.1 331.1h3.7v3.7h-3.7zM1524.9 290.4h3.7v3.7h-3.7zM1691.4 453.2h3.7v3.7h-3.7zM1454.6 216.4h3.7v3.7h-3.7zM1550.8 460.6h3.7v3.7h-3.7zM1647.0 223.8h3.7v3.7h-3.7zM1661.8 238.6h3.7v3.7h-3.7zM1706.2 401.4h3.7v3.7h-3.7zM1676.6 290.4h7.4v3.7h-7.4zM1580.4 186.8h3.7v3.7h-3.7zM1706.2 331.1h3.7v3.7h-3.7zM1654.4 379.2h3.7v3.7h-3.7zM1698.8 386.6h3.7v3.7h-3.7zM1439.8 290.4h3.7v3.7h-3.7zM1624.8 253.4h3.7v3.7h-3.7zM1684.0 401.4h3.7v3.7h-3.7zM1639.6 201.6h3.7v11.1h-3.7zM1698.8 342.2h3.7v3.7h-3.7zM1513.8 275.6h3.7v14.8h-3.7zM1676.6 260.8h3.7v3.7h-3.7zM1491.6 445.8h3.7v11.1h-3.7zM1698.8 438.4h3.7v3.7h-3.7zM1706.2 349.6h3.7v3.7h-3.7zM1580.4 401.4h3.7v3.7h-3.7zM1613.7 375.5h3.7v3.7h-3.7zM1602.6 312.6h7.4v3.7h-7.4zM1647.0 382.9h3.7v3.7h-3.7zM1698.8 268.2h3.7v3.7h-3.7zM1624.8 379.2h11.1v3.7h-11.1zM1639.6 401.4h3.7v3.7h-3.7zM1654.4 172.0h3.7v3.7h-3.7zM1687.7 419.9h14.8v3.7h-14.8zM1528.6 357.0h3.7v11.1h-3.7zM1691.4 209.0h3.7v3.7h-3.7z" fill="#000"/>
<path d="M1431.0 101V159.7H1442.1V156.0H1449.5V148.6H1456.9V156.0H1460.6V148.6H1464.3V156.0H1471.7V167.1H1479.1V156.0H1490.2V148.6H1497.6V167.1H1505.0V159.7H1516.1V159.7H1523.5V159.7H1534.6V163.4H1545.7V159.7H1556.8V167.1H1564.2V159.7H1575.3V167.1H1579.0V159.7H1586.4V159.7H1590.1V163.4H1601.2V148.6H1604.9V156.0H1616.0V152.3H1627.1V159.7H1630.8V156.0H1634.5V167.1H1638.2V152.3H1641.9V156.0H1645.6V156.0H1653.0V156.0H1664.1V163.4H1675.2V148.6H1682.6V159.7H1686.3V156.0H1697.4V159.7H1708.5V159.7H1713.0V101Z" fill="#000"/>
<path d="M1431.0 551V500.9H1438.4V500.9H1445.8V508.3H1453.2V508.3H1464.3V519.4H1468.0V500.9H1479.1V515.7H1490.2V515.7H1497.6V508.3H1505.0V504.6H1508.7V508.3H1512.4V508.3H1519.8V508.3H1527.2V515.7H1534.6V515.7H1545.7V519.4H1553.1V500.9H1556.8V519.4H1567.9V500.9H1579.0V512.0H1590.1V519.4H1597.5V504.6H1601.2V508.3H1612.3V519.4H1616.0V515.7H1627.1V512.0H1634.5V515.7H1641.9V519.4H1645.6V512.0H1649.3V519.4H1653.0V500.9H1660.4V512.0H1664.1V512.0H1675.2V512.0H1682.6V508.3H1686.3V508.3H1693.7V508.3H1704.8V512.0H1713.0V551Z" fill="#000"/>
<path d="M1145.6 150V551" stroke="#555" stroke-width="0.8"/>
<text x="661.5" y="138" font-size="37.4" fill="#fff">1300 K</text>
<text x="932.5" y="138" font-size="37.4" fill="#fff">1700 K</text>
<text x="1229.8" y="138" font-size="37.4" fill="#fff">2000 K</text>
<text x="1505.2" y="138" font-size="37.4" fill="#fff">2500 K</text>
</g>
<g id="panel-c">
<text x="29" y="598.8" font-size="42" font-weight="bold">c</text>
<text x="63.3" y="598.8" font-size="31.4">Temperature of heater: 2500 K</text>
<path d="M44 691Q44 675 64 674Q280 670 499 674Q519 675 519 691V1633Q519 1643 499 1646Q280 1661 64 1646Q44 1643 44 1633Z" fill="#ffcaca" filter="url(#cglow)"/>
<path d="M60 701 L503 701 L503 1628 A221.5 11.5 0 0 1 60 1628 Z" fill="#ffad95"/>
<ellipse cx="281.5" cy="701" rx="221.5" ry="11.5" fill="#ffc8b8"/>
<g stroke="#2c2c2c" stroke-width="2" fill="none">
<path d="M60.5 701V1627.5"/><path d="M501.5 703V1631"/>
<path d="M59.5 793.6h10.5M59.5 886.3h10.5M59.5 979.0h10.5M59.5 1071.6h10.5M59.5 1164.2h10.5M59.5 1256.9h10.5M59.5 1349.6h10.5M59.5 1442.2h10.5M59.5 1534.8h10.5"/>
<path d="M500.5 795.7h12M500.5 888.4h12M500.5 981.1h12M500.5 1073.8h12M500.5 1166.5h12M500.5 1259.2h12M500.5 1351.9h12M500.5 1444.6h12M500.5 1537.3h12"/>
</g>
<text x="46.2" y="720.9" font-size="29.8" text-anchor="end">0</text>
<text x="46.4" y="901" font-size="29.8" text-anchor="end">12</text>
<text x="48.6" y="1087.3" font-size="29.8" text-anchor="end">24</text>
<text x="50.5" y="1265.7" font-size="29.8" text-anchor="end">36</text>
<text x="51.4" y="1452.1" font-size="29.8" text-anchor="end">48</text>
<text x="52.2" y="1629.9" font-size="29.8" text-anchor="end">60</text>
<text x="7" y="1661" font-size="30.6">(ms)</text>
<text x="511.7" y="725" font-size="29.8">0</text>
<text x="511.7" y="810.6" font-size="29.8">0.2</text>
<text x="511.7" y="900.9" font-size="29.8">0.4</text>
<text x="515.1" y="993.9" font-size="29.8">0.6</text>
<text x="515.2" y="1083.5" font-size="29.8">0.8</text>
<text x="515.7" y="1176.8" font-size="29.8">1.0</text>
<text x="515.7" y="1269.4" font-size="29.8">1.2</text>
<text x="514.6" y="1358.5" font-size="29.8">1.4</text>
<text x="514.6" y="1454" font-size="29.8">1.6</text>
<text x="514.6" y="1545" font-size="29.8">1.8</text>
<text x="513.9000000000001" y="1634.5" font-size="29.8">2.0</text>
<text x="503" y="1660.5" font-size="30.6">(cm)</text>
<text transform="translate(1 1128.2) rotate(90)" font-size="34.5">Time</text>
<text transform="translate(457.2 1020) rotate(90)" font-size="30.1">Heater length= 2 cm</text>
<text transform="translate(297.8 818.5) rotate(90)" font-size="34">Travel direction</text>
<path d="M284.6 788V1084" stroke="#000" stroke-width="2.8"/><path d="M284.6 1102.4L269.2 1075L284.6 1080.6L300 1075Z"/>
<text x="95" y="770" font-size="33.6">Metal powders, d~ 1 μm</text>
<text x="365.5" y="689.2" font-size="32.3">v=0</text>
<text x="283.7" y="1154" font-size="34.5" text-anchor="middle">Radiative heating</text>
<text x="289.3" y="1194.8" font-size="34.5" text-anchor="middle">in the heater</text>
<circle cx="291" cy="673" r="13" fill="url(#bm)"/>
<circle cx="287.7" cy="654.9" r="21.2" fill="url(#bg)"/>
<circle cx="264.9" cy="691.4" r="19.5" fill="url(#bg)"/>
<circle cx="245.3" cy="672.1" r="20.4" fill="url(#bp)"/>
<circle cx="297.3" cy="690.8" r="18.8" fill="url(#bp)"/>
<circle cx="322.9" cy="670.7" r="20.6" fill="url(#bp)"/>
<circle cx="245.3" cy="717.7" r="19.3" fill="url(#bb)"/>
<circle cx="287.7" cy="728.7" r="19.3" fill="url(#bm)"/>
<circle cx="322.9" cy="711.5" r="20.4" fill="url(#bb)"/>
</g>
<g id="panel-d">
<text x="606.5" y="599" font-size="41" font-weight="bold">d</text>
<text x="882.6" y="599" font-size="31.5" text-anchor="middle">Temperature of metal powders</text>
<text x="887" y="636" font-size="31.5" text-anchor="middle">during heating (K)</text>
<rect x="658.6" y="698.2" width="476" height="924.3" fill="url(#dg)"/>
<g transform="rotate(-0.22 897.95 1161.1)" stroke="#1e2424" fill="none">
<rect x="660.6" y="699.1" width="474.7" height="924" stroke-width="2.1"/>
<path d="M739.6 699.1v10M739.6 1623.1v-10M818.7 699.1v10M818.7 1623.1v-10M897.8 699.1v10M897.8 1623.1v-10M976.8 699.1v10M976.8 1623.1v-10M1055.8 699.1v10M1055.8 1623.1v-10M660.6 791.5h11M660.6 883.9h11M660.6 976.3h11M660.6 1068.7h11M660.6 1161.1h11M660.6 1253.5h11M660.6 1345.9h11M660.6 1438.3h11M660.6 1530.7h11M1135.3 788.6h12.5M1135.3 881.1h12.5M1135.3 973.5h12.5M1135.3 1066.0h12.5M1135.3 1158.4h12.5M1135.3 1250.8h12.5M1135.3 1343.3h12.5M1135.3 1435.7h12.5M1135.3 1528.2h12.5" stroke-width="2"/>
</g>
<g fill="none" stroke-width="3.3" stroke-linejoin="round">
<path d="M704.5 700.0C710.9 701.8 727.6 707.0 742.7 711.0C757.9 715.0 777.8 719.6 795.4 724.2C813.0 728.8 832.3 734.5 848.1 738.7C863.9 742.9 878.2 745.7 890.0 749.6C901.8 753.5 909.1 757.6 918.7 762.2C928.3 766.8 940.3 773.2 947.5 777.2C954.7 781.2 957.0 783.3 961.8 786.2C966.6 789.1 971.4 790.8 976.2 794.5C981.0 798.2 987.2 804.0 990.6 808.5C994.0 813.0 994.9 815.8 996.6 821.8C998.3 827.8 999.8 834.8 1000.8 844.2C1001.8 853.6 1002.0 860.4 1002.3 878.0C1002.6 895.6 1002.5 938.0 1002.6 950.0L1002.6 1623" stroke="#5a6ee6"/>
<path d="M964.5 770.4L968.6 780.3L979.3 781.2L971.2 788.2L973.7 798.6L964.5 793.0L955.3 798.6L957.8 788.2L949.7 781.2L960.4 780.3Z" stroke="#5a6ee6" stroke-width="3.2" stroke-linejoin="miter"/>
<path d="M704.5 700.0C713.2 701.6 735.8 705.8 757.0 709.6C778.2 713.4 809.6 718.6 831.8 722.7C854.0 726.9 875.5 731.1 890.0 734.5C904.5 737.9 909.1 739.8 918.7 743.1C928.3 746.5 940.3 751.6 947.5 754.6C954.7 757.6 957.0 758.7 961.8 761.1C966.6 763.5 971.4 765.8 976.2 769.0C981.0 772.2 986.3 775.8 990.6 780.5C994.9 785.2 999.2 791.2 1002.1 797.0C1005.0 802.8 1006.5 807.8 1007.8 815.0C1009.1 822.2 1009.5 826.3 1009.8 840.5C1010.1 854.7 1009.6 880.1 1009.5 900.0C1009.4 919.9 1009.1 943.3 1009.0 960.0C1008.9 976.7 1008.7 993.3 1008.6 1000.0L1008.6 1623" stroke="#0072bd"/>
<path d="M941.4 732.6L945.5 742.5L956.2 743.4L948.1 750.4L950.6 760.8L941.4 755.2L932.2 760.8L934.7 750.4L926.6 743.4L937.3 742.5Z" stroke="#0072bd" stroke-width="3.2" stroke-linejoin="miter"/>
<path d="M704.5 700.0C713.2 701.3 735.8 704.5 757.0 707.7C778.2 710.9 809.6 715.0 831.8 719.0C854.0 723.0 875.5 728.3 890.0 731.6C904.5 734.9 909.1 735.9 918.7 738.8C928.3 741.7 940.3 746.3 947.5 748.9C954.7 751.5 957.0 752.5 961.8 754.6C966.6 756.8 971.4 758.9 976.2 761.8C981.0 764.7 986.6 768.1 990.6 771.8C994.6 775.5 998.1 779.2 1000.5 784.0C1002.9 788.8 1004.0 793.8 1005.0 800.6C1006.0 807.4 1006.2 811.8 1006.5 825.0C1006.8 838.2 1006.5 859.2 1006.5 880.0C1006.5 900.8 1006.3 938.3 1006.3 950.0L1006.3 1623" stroke="#d95319"/>
<path d="M921.6 724.7L925.7 734.6L936.4 735.5L928.3 742.5L930.8 752.9L921.6 747.3L912.4 752.9L914.9 742.5L906.8 735.5L917.5 734.6Z" stroke="#f05a23" stroke-width="3.2" stroke-linejoin="miter"/>
<path d="M704.5 700.0C713.2 701.2 735.8 704.2 757.0 707.0C778.2 709.8 809.6 713.1 831.8 717.0C854.0 720.9 875.5 727.1 890.0 730.2C904.5 733.4 909.1 733.5 918.7 735.9C928.3 738.3 940.3 742.1 947.5 744.5C954.7 746.9 957.0 748.2 961.8 750.3C966.6 752.3 971.4 754.3 976.2 756.8C981.0 759.3 986.3 762.2 990.6 765.4C994.9 768.6 999.2 772.6 1002.1 776.1C1005.0 779.6 1006.4 782.3 1007.8 786.2C1009.2 790.1 1010.0 790.2 1010.6 799.3C1011.2 808.3 1011.5 815.4 1011.7 840.5C1011.9 865.6 1011.7 931.8 1011.7 950.0L1011.7 1623" stroke="#edb120"/>
<path d="M954.3 730.1L958.4 740.0L969.1 740.9L961.0 747.9L963.5 758.3L954.3 752.7L945.1 758.3L947.6 747.9L939.5 740.9L950.2 740.0Z" stroke="#edb120" stroke-width="3.2" stroke-linejoin="miter"/>
<path d="M704.5 700.0C708.7 703.6 720.9 714.3 729.5 721.6C738.1 728.9 747.1 736.5 755.9 744.0C764.7 751.5 774.5 759.8 782.2 766.4C789.9 773.0 795.4 777.6 802.0 783.5C808.6 789.4 814.9 795.2 821.7 802.0C828.5 808.8 836.2 817.1 842.8 824.3C849.4 831.5 855.1 837.9 861.2 845.4C867.4 852.9 874.0 861.2 879.7 869.1C885.4 877.0 890.7 884.9 895.5 892.8C900.3 900.7 904.6 908.6 908.6 916.5C912.6 924.4 915.9 931.9 919.2 940.3C922.5 948.6 925.8 957.8 928.4 966.6C931.0 975.4 933.0 984.1 935.0 992.9C937.0 1001.7 938.8 1010.5 940.3 1019.3C941.8 1028.1 943.2 1036.8 944.2 1045.6C945.2 1054.4 945.9 1061.0 946.6 1072.0C947.3 1083.0 947.9 1096.8 948.3 1111.5C948.7 1126.2 948.8 1128.6 949.0 1160.0C949.2 1191.4 949.3 1276.7 949.4 1300.0L949.5 1623" stroke="#7e2f8e"/>
<path d="M802.0 770.9L806.1 780.8L816.8 781.7L808.7 788.7L811.2 799.1L802.0 793.5L792.8 799.1L795.3 788.7L787.2 781.7L797.9 780.8Z" stroke="#7e2f8e" stroke-width="3.2" stroke-linejoin="miter"/>
<path d="M704.5 700.0C713.2 700.8 735.8 702.7 757.0 705.0C778.2 707.3 809.6 710.4 831.8 714.0C854.0 717.6 877.9 723.9 890.0 726.6C902.1 729.3 900.2 728.9 904.4 730.2C908.6 731.5 912.1 732.8 915.1 734.5C918.1 736.2 920.2 738.2 922.3 740.2C924.3 742.2 926.0 744.3 927.4 746.7C928.8 749.1 930.1 751.6 930.9 754.6C931.7 757.6 932.0 758.8 932.3 764.7C932.5 770.6 932.4 785.8 932.4 790.0L932.4 1623" stroke="#77ac30"/>
<path d="M930.5 736.9L934.6 746.8L945.3 747.7L937.2 754.7L939.7 765.1L930.5 759.5L921.3 765.1L923.8 754.7L915.7 747.7L926.4 746.8Z" stroke="#77ac30" stroke-width="3.2" stroke-linejoin="miter"/>
</g>
<text x="658" y="684.7" font-size="30.2" text-anchor="middle">0</text>
<text x="815.2" y="684.7" font-size="30.2" text-anchor="middle">1000</text>
<text x="970.5" y="684.7" font-size="30.2" text-anchor="middle">2000</text>
<text x="1131.8" y="684.7" font-size="30.2" text-anchor="middle">3000</text>
<text x="646.5" y="719.6" font-size="29.8" text-anchor="end">0</text>
<text x="646.6999999999999" y="899.3" font-size="29.8" text-anchor="end">12</text>
<text x="648.6999999999999" y="1084.5" font-size="29.8" text-anchor="end">24</text>
<text x="650.5999999999999" y="1263.3" font-size="29.8" text-anchor="end">36</text>
<text x="651.1999999999999" y="1449" font-size="29.8" text-anchor="end">48</text>
<text x="651.3" y="1629.6" font-size="29.8" text-anchor="end">60</text>
<text x="606.3" y="1660.2" font-size="30.6">(ms)</text>
<text x="1148.4" y="715.8" font-size="29.8">0</text>
<text x="1148.4" y="801.4" font-size="29.8">0.2</text>
<text x="1148.4" y="891.7" font-size="29.8">0.4</text>
<text x="1151.8" y="984.7" font-size="29.8">0.6</text>
<text x="1151.9" y="1074.3" font-size="29.8">0.8</text>
<text x="1152.4" y="1167.6" font-size="29.8">1.0</text>
<text x="1152.4" y="1260.2" font-size="29.8">1.2</text>
<text x="1151.3" y="1349.3" font-size="29.8">1.4</text>
<text x="1151.3" y="1444.8" font-size="29.8">1.6</text>
<text x="1151.3" y="1535.8" font-size="29.8">1.8</text>
<text x="1150.6" y="1625.3" font-size="29.8">2.0</text>
<text x="1138.3" y="1659.2" font-size="30.8">(cm)</text>
<text transform="translate(585.8 1126.5) rotate(90)" font-size="34.5">Time</text>
<text transform="translate(1099 1051.3) rotate(90)" font-size="30">Heater length</text>
<text x="665.3" y="764" font-size="34.2">Unmelted zone</text>
<text x="669.5" y="864.8" font-size="34.2">Melted zone</text>
<path d="M676 1167H710.5" stroke="#5a6ee6" stroke-width="3.3"/>
<text x="745.3" y="1177.4" font-size="34" text-anchor="middle">Cr</text>
<path d="M677.5 1203.4H708.5" stroke="#0072bd" stroke-width="3.3"/>
<text x="748.6" y="1214.3" font-size="34" text-anchor="middle">Co</text>
<path d="M677.5 1238.5H708.5" stroke="#d95319" stroke-width="3.3"/>
<text x="748" y="1252.2" font-size="34" text-anchor="middle">Fe</text>
<path d="M677.5 1274.7H708.5" stroke="#edb120" stroke-width="3.3"/>
<text x="748" y="1289" font-size="34" text-anchor="middle">Ni</text>
<path d="M677.5 1313.3H708.5" stroke="#7e2f8e" stroke-width="3.3"/>
<text x="747.3" y="1327.1" font-size="34" text-anchor="middle">Al</text>
<path d="M677.5 1350.5H708.5" stroke="#77ac30" stroke-width="3.3"/>
<text x="748" y="1364" font-size="34" text-anchor="middle">Si</text>
<path d="M695.2 1384.2L699.3 1394.1L710.0 1395.0L701.9 1402.0L704.4 1412.4L695.2 1406.8L686.0 1412.4L688.5 1402.0L680.4 1395.0L691.1 1394.1Z" stroke="#5a6ee6" stroke-width="3.4" fill="none"/>
<text x="723.5" y="1408.2" font-size="34">T<tspan font-size="19" x="745" y="1419.5">m</tspan><tspan x="766.5" y="1408.2" font-size="34">of Cr</tspan></text>
<path d="M695.2 1421.2L699.3 1431.1L710.0 1432.0L701.9 1439.0L704.4 1449.4L695.2 1443.8L686.0 1449.4L688.5 1439.0L680.4 1432.0L691.1 1431.1Z" stroke="#0072bd" stroke-width="3.4" fill="none"/>
<text x="723.5" y="1448.3" font-size="34">T<tspan font-size="19" x="745" y="1458.6">m</tspan><tspan x="766.5" y="1448.3" font-size="34">of Co</tspan></text>
<path d="M695.2 1457.9L699.3 1467.8L710.0 1468.7L701.9 1475.7L704.4 1486.1L695.2 1480.5L686.0 1486.1L688.5 1475.7L680.4 1468.7L691.1 1467.8Z" stroke="#f05a23" stroke-width="3.4" fill="none"/>
<text x="723.5" y="1486.3" font-size="34">T<tspan font-size="19" x="745" y="1497.1">m</tspan><tspan x="766.5" y="1486.3" font-size="34">of Fe</tspan></text>
<path d="M695.2 1495.9L699.3 1505.8L710.0 1506.7L701.9 1513.7L704.4 1524.1L695.2 1518.5L686.0 1524.1L688.5 1513.7L680.4 1506.7L691.1 1505.8Z" stroke="#edb120" stroke-width="3.4" fill="none"/>
<text x="723.5" y="1522.8" font-size="34">T<tspan font-size="19" x="745" y="1534.7">m</tspan><tspan x="766.5" y="1522.8" font-size="34">of Ni</tspan></text>
<path d="M695.2 1533.4L699.3 1543.3L710.0 1544.2L701.9 1551.2L704.4 1561.6L695.2 1556.0L686.0 1561.6L688.5 1551.2L680.4 1544.2L691.1 1543.3Z" stroke="#7e2f8e" stroke-width="3.4" fill="none"/>
<text x="723.5" y="1560.4" font-size="34">T<tspan font-size="19" x="745" y="1572.3">m</tspan><tspan x="766.5" y="1560.4" font-size="34">of Al</tspan></text>
<path d="M695.2 1571.4L699.3 1581.3L710.0 1582.2L701.9 1589.2L704.4 1599.6L695.2 1594.0L686.0 1599.6L688.5 1589.2L680.4 1582.2L691.1 1581.3Z" stroke="#77ac30" stroke-width="3.4" fill="none"/>
<text x="723.5" y="1592.6" font-size="34">T<tspan font-size="19" x="745" y="1604.9">m</tspan><tspan x="766.5" y="1592.6" font-size="34">of Si</tspan></text>
</g>
<g id="panel-e">
<text x="1196" y="599" font-size="41" font-weight="bold">e</text>
<text x="1481.7" y="599" font-size="31.4" text-anchor="middle">Temperature of melted elements</text>
<text x="1486.5" y="636" font-size="31.4" text-anchor="middle">during cooling (K)</text>
<rect x="1303.8" y="690.8" width="406.6" height="931.2" fill="url(#eg)"/>
<path d="M1326.6 690.8v7M1349.4 690.8v14M1372.3 690.8v7M1395.1 690.8v14M1417.9 690.8v7M1440.7 690.8v14M1463.5 690.8v7M1486.4 690.8v14M1509.2 690.8v7M1532.0 690.8v14M1554.8 690.8v7M1577.6 690.8v14M1600.5 690.8v7M1623.3 690.8v14M1646.1 690.8v7M1668.9 690.8v14M1691.7 690.8v7M1303.8 775.4h9M1303.8 860.1h15M1303.8 944.8h9M1303.8 1029.4h15M1303.8 1114.0h9M1303.8 1198.7h15M1303.8 1283.3h9M1303.8 1368.0h15M1303.8 1452.7h9M1303.8 1537.3h15" stroke="#3a3030" stroke-width="1.3" fill="none"/>
<path d="M1303.8 841.7H1710.4M1303.8 1013.7H1710.4M1303.8 1206.5H1710.4" stroke="#808080" stroke-width="3" stroke-dasharray="8.5 3.9" fill="none"/>
<path d="M1657.8 690.8C1657.7 692.8 1657.7 699.3 1657.0 702.8C1656.3 706.3 1655.1 709.1 1653.8 711.6C1652.5 714.1 1651.8 715.2 1649.4 718.0C1647.0 720.8 1643.0 724.7 1639.2 728.1C1635.4 731.5 1631.9 734.0 1626.6 738.2C1621.3 742.4 1613.3 748.5 1607.6 753.4C1601.9 758.2 1597.7 762.4 1592.4 767.3C1587.1 772.1 1581.3 777.2 1576.0 782.5C1570.7 787.8 1565.7 793.7 1560.8 799.0C1555.9 804.3 1551.4 808.9 1546.8 814.2C1542.2 819.5 1536.8 826.0 1532.9 830.6C1529.0 835.2 1527.0 837.1 1523.4 842.0C1519.8 846.9 1515.5 853.9 1511.4 860.0C1507.3 866.1 1504.6 868.2 1498.6 878.6C1492.5 889.0 1482.4 907.7 1475.1 922.2C1467.8 936.7 1461.4 950.5 1455.0 965.8C1448.6 981.0 1442.4 997.5 1436.5 1013.7C1430.6 1029.9 1424.7 1047.0 1419.8 1063.0C1414.9 1079.0 1413.1 1086.1 1407.0 1110.0C1400.9 1133.9 1389.1 1179.7 1383.1 1206.5C1377.1 1233.3 1375.4 1243.4 1371.1 1270.6C1366.8 1297.8 1361.2 1339.4 1357.5 1369.6C1353.8 1399.8 1351.6 1422.3 1348.9 1451.5C1346.2 1480.7 1342.7 1529.2 1341.4 1544.7" stroke="#000" stroke-width="3.2" fill="none"/>
<rect x="1303.8" y="690.8" width="406.6" height="931.2" fill="none" stroke="#000" stroke-width="2.2"/>
<text x="1303.5" y="673.3" font-size="30" text-anchor="middle">200</text>
<text x="1394.8" y="673.3" font-size="30" text-anchor="middle">600</text>
<text x="1486.1" y="673.3" font-size="30" text-anchor="middle">1000</text>
<text x="1577.3" y="673.3" font-size="30" text-anchor="middle">1400</text>
<text x="1668.6" y="673.3" font-size="30" text-anchor="middle">1800</text>
<text x="1292" y="701.1" font-size="29.8" text-anchor="end">0</text>
<text x="1292" y="870.4" font-size="29.8" text-anchor="end">2</text>
<text x="1292" y="1039.7" font-size="29.8" text-anchor="end">4</text>
<text x="1292" y="1209.0" font-size="29.8" text-anchor="end">6</text>
<text x="1292" y="1378.3" font-size="29.8" text-anchor="end">8</text>
<text x="1292" y="1547.6" font-size="29.8" text-anchor="end">10</text>
<text x="1275.8" y="1659.7" font-size="30.8">(s)</text>
<text transform="translate(1236.5 1115.5) rotate(90)" font-size="34.5">Time</text>
<text x="1391.8" y="728" font-size="28" text-anchor="middle" fill="#231f20">Cooling rate</text>
<text x="1391.8" y="761.6" font-size="28" text-anchor="middle" fill="#231f20">418 K/s</text>
<text x="1393.5" y="870.2" font-size="28" text-anchor="middle" fill="#231f20">Cooling rate</text>
<text x="1393.5" y="903.8000000000001" font-size="28" text-anchor="middle" fill="#231f20">174 K/s</text>
<text x="1609.7" y="1040.2" font-size="28" text-anchor="middle" fill="#231f20">Cooling rate</text>
<text x="1609.7" y="1073.8" font-size="28" text-anchor="middle" fill="#231f20">98 K/s</text>
<text x="1607.4" y="1240" font-size="28" text-anchor="middle" fill="#231f20">Cooling rate</text>
<text x="1607.4" y="1273.6" font-size="28" text-anchor="middle" fill="#231f20">55 K/s</text>
</g>
</svg>
</body></html>
